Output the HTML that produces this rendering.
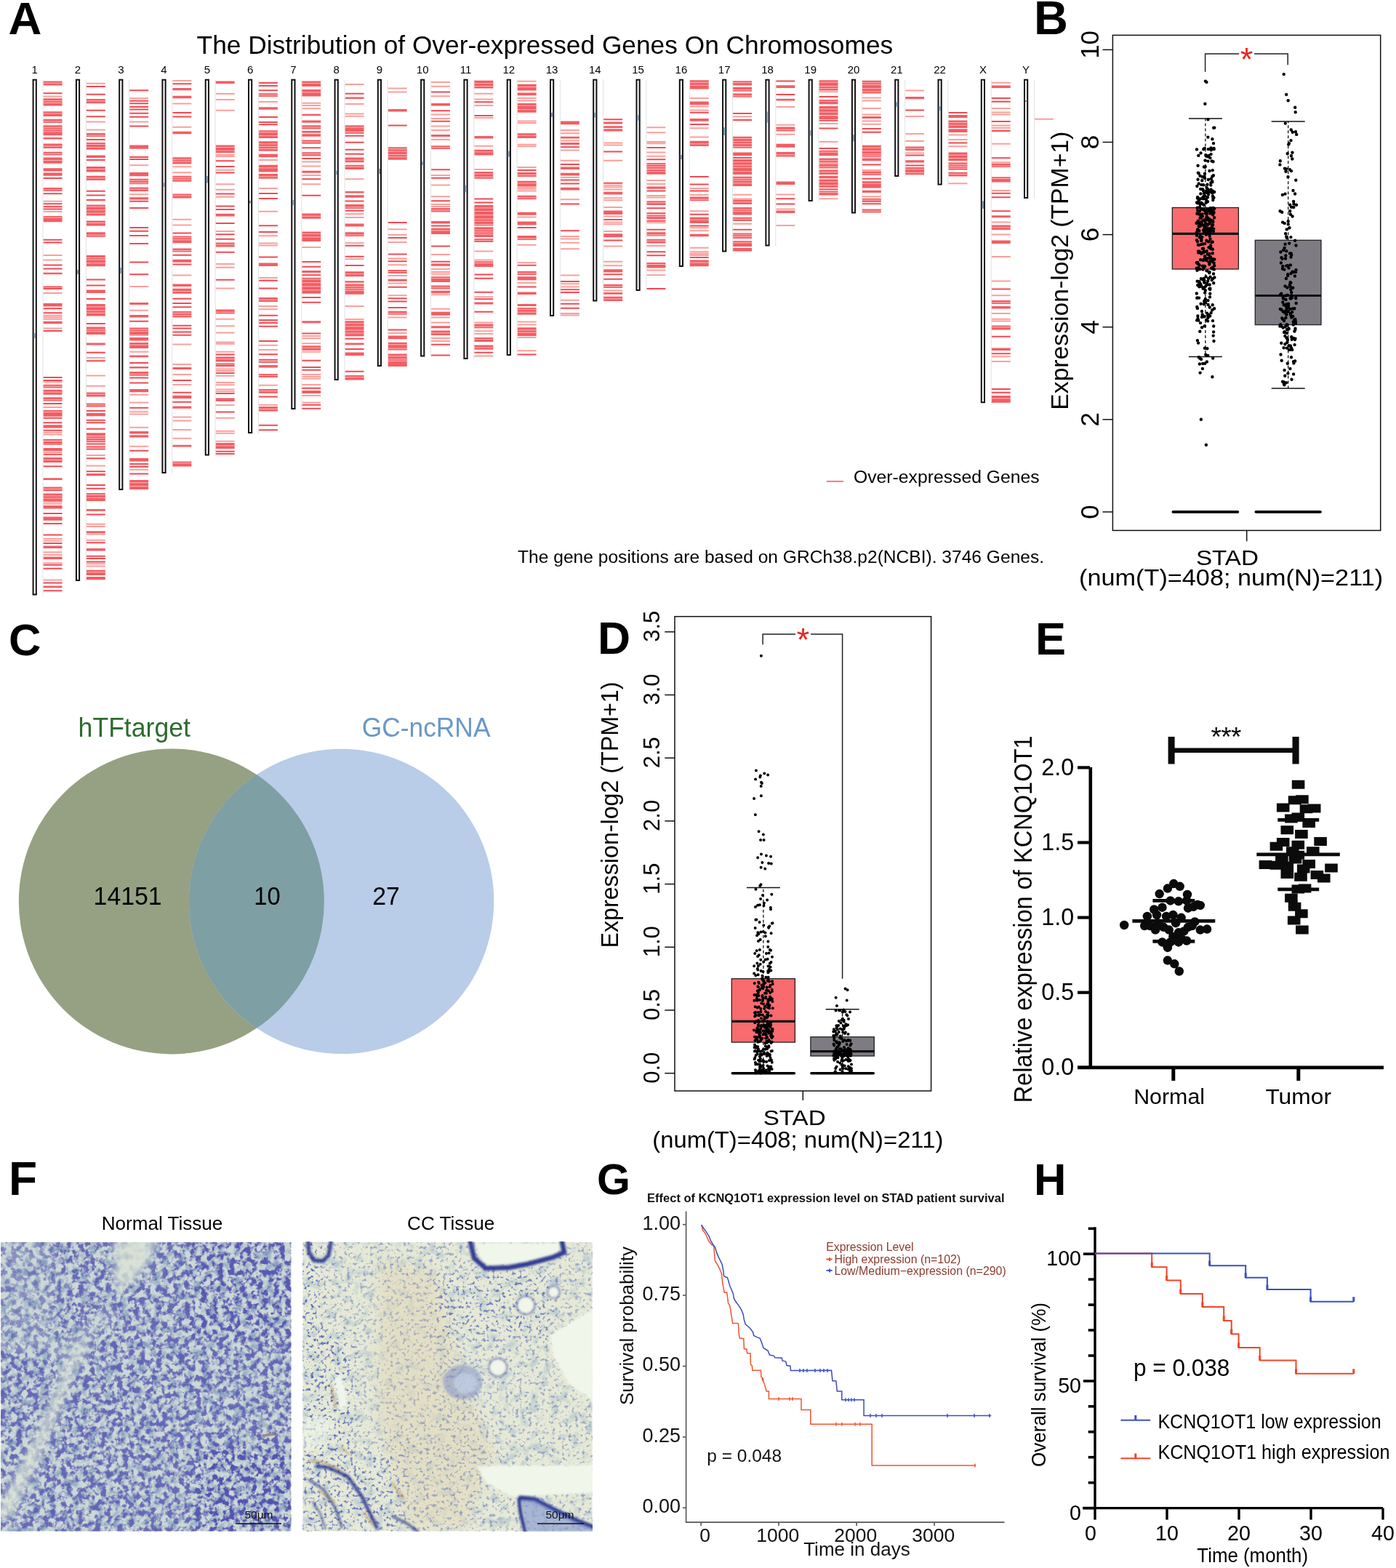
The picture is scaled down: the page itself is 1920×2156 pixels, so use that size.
<!DOCTYPE html>
<html><head><meta charset="utf-8"><title>Figure</title>
<style>html,body{margin:0;padding:0;background:#fff;} svg{display:block;} text{font-family:'Liberation Sans', Arial, sans-serif;}</style>
</head><body>
<svg width="1920" height="2156" viewBox="0 0 1920 2156">
<rect width="1920" height="2156" fill="#fff"/>
<text x="11.5" y="46.7" font-size="63.5" font-weight="bold">A</text>
<text x="270.6" y="73.8" font-size="35.5" textLength="957.6" lengthAdjust="spacingAndGlyphs">The Distribution of Over-expressed Genes On Chromosomes</text>
<text x="47.7" y="100.8" font-size="15" text-anchor="middle">1</text>
<rect x="58.5" y="109.7" width="1" height="708.8" fill="#e2e2e4"/>
<rect x="45.6" y="109.7" width="4.2" height="707.8" fill="#fff" stroke="#111" stroke-width="2"/>
<rect x="46.6" y="458" width="2.2" height="7" fill="#7f9bbf"/>
<text x="107" y="100.8" font-size="15" text-anchor="middle">2</text>
<rect x="117.8" y="109.7" width="1" height="689.3" fill="#e2e2e4"/>
<rect x="104.9" y="109.7" width="4.2" height="688.3" fill="#fff" stroke="#111" stroke-width="2"/>
<rect x="105.9" y="371" width="2.2" height="6" fill="#7f9bbf"/>
<text x="166.3" y="100.8" font-size="15" text-anchor="middle">3</text>
<rect x="177.1" y="109.7" width="1" height="564.3" fill="#e2e2e4"/>
<rect x="164.2" y="109.7" width="4.2" height="563.3" fill="#fff" stroke="#111" stroke-width="2"/>
<rect x="165.2" y="368" width="2.2" height="8" fill="#7f9bbf"/>
<text x="225.5" y="100.8" font-size="15" text-anchor="middle">4</text>
<rect x="236.3" y="109.7" width="1" height="541.3" fill="#e2e2e4"/>
<rect x="223.4" y="109.7" width="4.2" height="540.3" fill="#fff" stroke="#111" stroke-width="2"/>
<rect x="224.4" y="251.5" width="2.2" height="5.2" fill="#7f9bbf"/>
<text x="284.8" y="100.8" font-size="15" text-anchor="middle">5</text>
<rect x="295.6" y="109.7" width="1" height="516.8" fill="#e2e2e4"/>
<rect x="282.7" y="109.7" width="4.2" height="515.8" fill="#fff" stroke="#111" stroke-width="2"/>
<rect x="283.7" y="242" width="2.2" height="9.5" fill="#7f9bbf"/>
<text x="344.1" y="100.8" font-size="15" text-anchor="middle">6</text>
<rect x="354.9" y="109.7" width="1" height="486.3" fill="#e2e2e4"/>
<rect x="342" y="109.7" width="4.2" height="485.3" fill="#fff" stroke="#111" stroke-width="2"/>
<rect x="343" y="276" width="2.2" height="3.6" fill="#7f9bbf"/>
<text x="403.4" y="100.8" font-size="15" text-anchor="middle">7</text>
<rect x="414.2" y="109.7" width="1" height="453.3" fill="#e2e2e4"/>
<rect x="401.3" y="109.7" width="4.2" height="452.3" fill="#fff" stroke="#111" stroke-width="2"/>
<rect x="402.3" y="275" width="2.2" height="7" fill="#7f9bbf"/>
<text x="462.7" y="100.8" font-size="15" text-anchor="middle">8</text>
<rect x="473.5" y="109.7" width="1" height="413.3" fill="#e2e2e4"/>
<rect x="460.6" y="109.7" width="4.2" height="412.3" fill="#fff" stroke="#111" stroke-width="2"/>
<rect x="461.6" y="234.7" width="2.2" height="5.3" fill="#7f9bbf"/>
<text x="521.9" y="100.8" font-size="15" text-anchor="middle">9</text>
<rect x="532.7" y="109.7" width="1" height="394.3" fill="#e2e2e4"/>
<rect x="519.8" y="109.7" width="4.2" height="393.3" fill="#fff" stroke="#111" stroke-width="2"/>
<rect x="520.8" y="232" width="2.2" height="7" fill="#7f9bbf"/>
<text x="581.2" y="100.8" font-size="15" text-anchor="middle">10</text>
<rect x="592" y="109.7" width="1" height="380.8" fill="#e2e2e4"/>
<rect x="579.1" y="109.7" width="4.2" height="379.8" fill="#fff" stroke="#111" stroke-width="2"/>
<rect x="580.1" y="222.3" width="2.2" height="4.9" fill="#7f9bbf"/>
<text x="640.5" y="100.8" font-size="15" text-anchor="middle">11</text>
<rect x="651.3" y="109.7" width="1" height="384.3" fill="#e2e2e4"/>
<rect x="638.4" y="109.7" width="4.2" height="383.3" fill="#fff" stroke="#111" stroke-width="2"/>
<rect x="639.4" y="254.6" width="2.2" height="9.8" fill="#7f9bbf"/>
<text x="699.8" y="100.8" font-size="15" text-anchor="middle">12</text>
<rect x="710.6" y="109.7" width="1" height="379.3" fill="#e2e2e4"/>
<rect x="697.7" y="109.7" width="4.2" height="378.3" fill="#fff" stroke="#111" stroke-width="2"/>
<rect x="698.7" y="207.6" width="2.2" height="7.9" fill="#7f9bbf"/>
<text x="759.1" y="100.8" font-size="15" text-anchor="middle">13</text>
<rect x="769.9" y="109.7" width="1" height="325.3" fill="#e2e2e4"/>
<rect x="757" y="109.7" width="4.2" height="324.3" fill="#fff" stroke="#111" stroke-width="2"/>
<rect x="758" y="154.9" width="2.2" height="5.8" fill="#7f9bbf"/>
<text x="818.3" y="100.8" font-size="15" text-anchor="middle">14</text>
<rect x="829.1" y="109.7" width="1" height="304.8" fill="#e2e2e4"/>
<rect x="816.2" y="109.7" width="4.2" height="303.8" fill="#fff" stroke="#111" stroke-width="2"/>
<rect x="817.2" y="154.9" width="2.2" height="6.6" fill="#7f9bbf"/>
<text x="877.6" y="100.8" font-size="15" text-anchor="middle">15</text>
<rect x="888.4" y="109.7" width="1" height="290.3" fill="#e2e2e4"/>
<rect x="875.5" y="109.7" width="4.2" height="289.3" fill="#fff" stroke="#111" stroke-width="2"/>
<rect x="876.5" y="158.2" width="2.2" height="7.5" fill="#7f9bbf"/>
<text x="936.9" y="100.8" font-size="15" text-anchor="middle">16</text>
<rect x="947.7" y="109.7" width="1" height="257.3" fill="#e2e2e4"/>
<rect x="934.8" y="109.7" width="4.2" height="256.3" fill="#fff" stroke="#111" stroke-width="2"/>
<rect x="935.8" y="213" width="2.2" height="6" fill="#7f9bbf"/>
<text x="996.2" y="100.8" font-size="15" text-anchor="middle">17</text>
<rect x="1007" y="109.7" width="1" height="236.8" fill="#e2e2e4"/>
<rect x="994.1" y="109.7" width="4.2" height="235.8" fill="#fff" stroke="#111" stroke-width="2"/>
<rect x="995.1" y="175.3" width="2.2" height="10.6" fill="#7f9bbf"/>
<text x="1055.5" y="100.8" font-size="15" text-anchor="middle">18</text>
<rect x="1066.3" y="109.7" width="1" height="228.8" fill="#e2e2e4"/>
<rect x="1053.4" y="109.7" width="4.2" height="227.8" fill="#fff" stroke="#111" stroke-width="2"/>
<rect x="1054.4" y="153.5" width="2.2" height="15.2" fill="#7f9bbf"/>
<text x="1114.7" y="100.8" font-size="15" text-anchor="middle">19</text>
<rect x="1125.5" y="109.7" width="1" height="167.3" fill="#e2e2e4"/>
<rect x="1112.6" y="109.7" width="4.2" height="166.3" fill="#fff" stroke="#111" stroke-width="2"/>
<rect x="1113.6" y="179.3" width="2.2" height="7.2" fill="#7f9bbf"/>
<text x="1174" y="100.8" font-size="15" text-anchor="middle">20</text>
<rect x="1184.8" y="109.7" width="1" height="183.8" fill="#e2e2e4"/>
<rect x="1171.9" y="109.7" width="4.2" height="182.8" fill="#fff" stroke="#111" stroke-width="2"/>
<rect x="1172.9" y="185.2" width="2.2" height="9.3" fill="#7f9bbf"/>
<text x="1233.3" y="100.8" font-size="15" text-anchor="middle">21</text>
<rect x="1244.1" y="109.7" width="1" height="133.3" fill="#e2e2e4"/>
<rect x="1231.2" y="109.7" width="4.2" height="132.3" fill="#fff" stroke="#111" stroke-width="2"/>
<rect x="1232.2" y="140.3" width="2.2" height="6.6" fill="#7f9bbf"/>
<text x="1292.6" y="100.8" font-size="15" text-anchor="middle">22</text>
<rect x="1303.4" y="109.7" width="1" height="144.9" fill="#e2e2e4"/>
<rect x="1290.5" y="109.7" width="4.2" height="143.9" fill="#fff" stroke="#111" stroke-width="2"/>
<rect x="1291.5" y="146.2" width="2.2" height="6" fill="#7f9bbf"/>
<text x="1351.9" y="100.8" font-size="15" text-anchor="middle">X</text>
<rect x="1362.7" y="109.7" width="1" height="444.5" fill="#e2e2e4"/>
<rect x="1349.8" y="109.7" width="4.2" height="443.5" fill="#fff" stroke="#111" stroke-width="2"/>
<rect x="1350.8" y="276.4" width="2.2" height="10.5" fill="#7f9bbf"/>
<text x="1411.1" y="100.8" font-size="15" text-anchor="middle">Y</text>
<rect x="1421.9" y="109.7" width="1" height="163.3" fill="#e2e2e4"/>
<rect x="1409" y="109.7" width="4.2" height="162.3" fill="#fff" stroke="#111" stroke-width="2"/>
<rect x="1410" y="138" width="2.2" height="2" fill="#7f9bbf"/>
<path d="M59.7 111.4h25.8v6.2h-25.8zM59.7 135.2h25.8v10.2h-25.8zM59.7 153.2h25.8v6.7h-25.8zM59.7 163.8h25.8v5.3h-25.8zM59.7 172.2h25.8v14.1h-25.8zM59.7 188.9h25.8v2.6h-25.8zM59.7 197.4h25.8v6.5h-25.8zM59.7 208.7h25.8v4.9h-25.8zM59.7 216.6h25.8v8.1h-25.8zM59.7 231.2h25.8v4.4h-25.8zM59.7 237.4h25.8v4.4h-25.8zM59.7 258h25.8v4.9h-25.8zM59.7 296.9h25.8v8.3h-25.8zM59.7 374.7h25.8v2.6h-25.8zM59.7 417h25.8v4.4h-25.8zM59.7 441.7h25.8v3.5h-25.8zM59.7 528.7h25.8v4.9h-25.8zM59.7 535.7h25.8v7h-25.8zM59.7 546.3h25.8v5.3h-25.8zM59.7 563.9h25.8v8.8h-25.8zM59.7 584.2h25.8v4.4h-25.8zM59.7 615.9h25.8v4.4h-25.8zM59.7 629.1h25.8v7h-25.8zM59.7 657.3h25.8v2.6h-25.8zM59.7 669.6h25.8v5.6h-25.8zM59.7 678.4h25.8v10.6h-25.8zM59.7 695.1h25.8v4.4h-25.8zM59.7 710.4h25.8v5.3h-25.8zM59.7 750.6h25.8v3.5h-25.8zM59.7 765.6h25.8v3.5h-25.8zM59.7 805.5h25.8v2.8h-25.8zM119 136.1h25.8v6.2h-25.8zM119 183.1h25.8v4.9h-25.8zM119 196h25.8v9.7h-25.8zM119 213.6h25.8v3.5h-25.8zM119 229.1h25.8v7.4h-25.8zM119 241.8h25.8v6.2h-25.8zM119 281.4h25.8v15h-25.8zM119 303.4h25.8v7h-25.8zM119 319.3h25.8v6.5h-25.8zM119 351h25.8v15.3h-25.8zM119 398.5h25.8v4.4h-25.8zM119 417.9h25.8v16.7h-25.8zM119 449.6h25.8v10.4h-25.8zM119 471.4h25.8v3.2h-25.8zM119 539.6h25.8v5.8h-25.8zM119 554.6h25.8v4.9h-25.8zM119 567.8h25.8v4.4h-25.8zM119 595.3h25.8v3.9h-25.8zM119 600h25.8v8.3h-25.8zM119 651.1h25.8v3.2h-25.8zM119 678h25.8v10.9h-25.8zM119 699.9h25.8v2.8h-25.8zM119 730.3h25.8v2.6h-25.8zM119 754.1h25.8v3.5h-25.8zM119 783.7h25.8v7.4h-25.8zM119 792.9h25.8v4.4h-25.8zM178.3 199.5h25.8v5.3h-25.8zM178.3 237h25.8v5.3h-25.8zM178.3 245.8h25.8v7.4h-25.8zM178.3 257.6h25.8v5.3h-25.8zM178.3 271.2h25.8v3.2h-25.8zM178.3 416.1h25.8v3h-25.8zM178.3 432.9h25.8v3.5h-25.8zM178.3 450.5h25.8v9.5h-25.8zM178.3 463.9h25.8v4.6h-25.8zM178.3 470.9h25.8v8.1h-25.8zM178.3 488.5h25.8v2.8h-25.8zM178.3 504h25.8v2.6h-25.8zM178.3 511.1h25.8v5.6h-25.8zM178.3 534.9h25.8v4.4h-25.8zM178.3 593h25.8v3.5h-25.8zM178.3 598.3h25.8v3.2h-25.8zM178.3 630h25.8v4.4h-25.8zM178.3 640.5h25.8v2.6h-25.8zM178.3 659.9h25.8v13.2h-25.8zM237.5 121.1h25.8v3.2h-25.8zM237.5 131.7h25.8v3.5h-25.8zM237.5 180.7h25.8v3.5h-25.8zM237.5 216.2h25.8v9.2h-25.8zM237.5 241.8h25.8v7.9h-25.8zM237.5 266.4h25.8v6.2h-25.8zM237.5 324.6h25.8v9.7h-25.8zM237.5 341.6h25.8v4.9h-25.8zM237.5 356.8h25.8v3.9h-25.8zM237.5 390.6h25.8v3.5h-25.8zM237.5 396.8h25.8v7h-25.8zM237.5 427.9h25.8v8.5h-25.8zM237.5 504.9h25.8v3h-25.8zM237.5 543.7h25.8v4.4h-25.8zM237.5 558.6h25.8v3.2h-25.8zM237.5 611.8h25.8v2.8h-25.8zM237.5 634.4h25.8v7h-25.8zM296.8 111.4h25.8v3.5h-25.8zM296.8 199.5h25.8v7.9h-25.8zM296.8 293.7h25.8v3.9h-25.8zM296.8 333.4h25.8v6.2h-25.8zM296.8 425.5h25.8v6h-25.8zM296.8 490.6h25.8v7h-25.8zM296.8 609h25.8v7.9h-25.8zM356.1 128.2h25.8v4.9h-25.8zM356.1 147.2h25.8v3.5h-25.8zM356.1 179.3h25.8v10.6h-25.8zM356.1 194.2h25.8v13.6h-25.8zM356.1 211.8h25.8v4.4h-25.8zM356.1 226.8h25.8v9.7h-25.8zM356.1 239.1h25.8v6.7h-25.8zM356.1 361.5h25.8v4.4h-25.8zM356.1 409.1h25.8v5.8h-25.8zM356.1 439h25.8v2.6h-25.8zM356.1 501.9h25.8v3.6h-25.8zM356.1 514.1h25.8v4.9h-25.8zM356.1 534.9h25.8v5.8h-25.8zM356.1 558.9h25.8v6.6h-25.8zM415.4 111.4h25.8v7.6h-25.8zM415.4 122.9h25.8v9.7h-25.8zM415.4 156.7h25.8v2.6h-25.8zM415.4 165.5h25.8v3.2h-25.8zM415.4 172.2h25.8v5.3h-25.8zM415.4 180.1h25.8v2.6h-25.8zM415.4 184.2h25.8v3.5h-25.8zM415.4 192.5h25.8v5.3h-25.8zM415.4 209.2h25.8v5.3h-25.8zM415.4 234.7h25.8v3h-25.8zM415.4 293.4h25.8v7.4h-25.8zM415.4 318.4h25.8v13.7h-25.8zM415.4 372.1h25.8v3h-25.8zM415.4 381.8h25.8v22h-25.8zM415.4 441.3h25.8v3h-25.8zM415.4 475.2h25.8v6.6h-25.8zM415.4 537.1h25.8v4h-25.8zM474.7 133.5h25.8v2.6h-25.8zM474.7 172.2h25.8v8.8h-25.8zM474.7 216.6h25.8v6.7h-25.8zM474.7 226.8h25.8v6.2h-25.8zM474.7 262.9h25.8v2.6h-25.8zM474.7 268.2h25.8v3.5h-25.8zM474.7 281h25.8v6h-25.8zM474.7 307.5h25.8v3.9h-25.8zM474.7 319.3h25.8v5.8h-25.8zM474.7 373.3h25.8v7h-25.8zM474.7 386.2h25.8v2.6h-25.8zM474.7 390.6h25.8v14.1h-25.8zM474.7 441.3h25.8v18.7h-25.8zM474.7 471.6h25.8v2.6h-25.8zM474.7 484.4h25.8v4.6h-25.8zM474.7 516h25.8v6.6h-25.8zM533.9 149.9h25.8v3.5h-25.8zM533.9 202.2h25.8v17.6h-25.8zM533.9 371h25.8v4.9h-25.8zM533.9 383.8h25.8v2.9h-25.8zM533.9 427.8h25.8v4.9h-25.8zM533.9 461.6h25.8v4.7h-25.8zM533.9 470.8h25.8v10.8h-25.8zM533.9 486.5h25.8v13.5h-25.8zM533.9 500h25.8v3.9h-25.8zM593.2 142.1h25.8v3.3h-25.8zM593.2 185.1h25.8v2.9h-25.8zM593.2 200.2h25.8v4.9h-25.8zM593.2 285.9h25.8v5.5h-25.8zM593.2 304.1h25.8v3.3h-25.8zM593.2 313.7h25.8v8.4h-25.8zM593.2 362.6h25.8v3.1h-25.8zM593.2 380.2h25.8v7.8h-25.8zM593.2 392.6h25.8v4.9h-25.8zM593.2 399.8h25.8v3.5h-25.8zM593.2 428.8h25.8v4.9h-25.8zM593.2 448.3h25.8v2.9h-25.8zM593.2 454.6h25.8v6.5h-25.8zM652.5 110.8h25.8v10.8h-25.8zM652.5 187.1h25.8v3.3h-25.8zM652.5 205.7h25.8v7.8h-25.8zM652.5 236h25.8v9.8h-25.8zM652.5 282h25.8v28.4h-25.8zM652.5 312.3h25.8v13.7h-25.8zM652.5 328h25.8v4.9h-25.8zM652.5 359.3h25.8v7.8h-25.8zM652.5 415.5h25.8v3.1h-25.8zM652.5 445.4h25.8v5.9h-25.8zM652.5 464h25.8v5.9h-25.8zM652.5 474.4h25.8v6.3h-25.8zM711.8 115.7h25.8v8.8h-25.8zM711.8 127.4h25.8v3.9h-25.8zM711.8 142.1h25.8v12.7h-25.8zM711.8 183.2h25.8v6.8h-25.8zM711.8 237h25.8v5.9h-25.8zM711.8 248.7h25.8v7.8h-25.8zM711.8 268.7h25.8v5.5h-25.8zM711.8 291.8h25.8v3.9h-25.8zM711.8 304.5h25.8v4.9h-25.8zM711.8 324.1h25.8v5.9h-25.8zM711.8 373h25.8v4.9h-25.8zM711.8 380.2h25.8v5.1h-25.8zM711.8 401.4h25.8v3.5h-25.8zM711.8 418h25.8v2.9h-25.8zM711.8 422.9h25.8v9.8h-25.8zM711.8 450.3h25.8v11.7h-25.8zM771.1 166.5h25.8v4.7h-25.8zM771.1 187.8h25.8v2.8h-25.8zM771.1 196.1h25.8v2.8h-25.8zM771.1 229.4h25.8v3.7h-25.8zM771.1 237.7h25.8v3.7h-25.8zM771.1 257.7h25.8v3.7h-25.8zM830.3 167.4h25.8v3h-25.8zM830.3 173.2h25.8v2.8h-25.8zM830.3 177.3h25.8v3.3h-25.8zM830.3 263.8h25.8v3.8h-25.8zM830.3 289.6h25.8v5.3h-25.8zM830.3 321.2h25.8v5h-25.8zM830.3 370.3h25.8v4.2h-25.8zM830.3 391.1h25.8v5h-25.8zM830.3 401.9h25.8v2.8h-25.8zM830.3 407.7h25.8v6.3h-25.8zM889.6 223.9h25.8v8.3h-25.8zM889.6 233.1h25.8v6.7h-25.8zM889.6 256.4h25.8v3.3h-25.8zM889.6 276.3h25.8v5.8h-25.8zM889.6 295.4h25.8v5.8h-25.8zM889.6 319.2h25.8v5.3h-25.8zM889.6 328.7h25.8v5.8h-25.8zM889.6 361.1h25.8v7.5h-25.8zM948.9 110.3h25.8v12.2h-25.8zM948.9 139.6h25.8v4.6h-25.8zM948.9 163.1h25.8v3.6h-25.8zM948.9 193.8h25.8v7.3h-25.8zM948.9 270.4h25.8v5.9h-25.8zM948.9 298.8h25.8v8.3h-25.8zM948.9 321.7h25.8v3.6h-25.8zM948.9 357.6h25.8v8.6h-25.8zM1008.2 111.2h25.8v6.2h-25.8zM1008.2 119.8h25.8v5.9h-25.8zM1008.2 128.4h25.8v5.3h-25.8zM1008.2 187.8h25.8v15.9h-25.8zM1008.2 209.4h25.8v4.9h-25.8zM1008.2 218.9h25.8v21.1h-25.8zM1008.2 242.7h25.8v13.2h-25.8zM1008.2 274.6h25.8v6.3h-25.8zM1008.2 284.9h25.8v10.6h-25.8zM1008.2 298.8h25.8v5.3h-25.8zM1008.2 320.6h25.8v7.3h-25.8zM1008.2 331.2h25.8v7.7h-25.8zM1008.2 341.1h25.8v4.4h-25.8zM1067.5 117.2h25.8v3.7h-25.8zM1067.5 135.7h25.8v2.9h-25.8zM1067.5 174.6h25.8v5.9h-25.8zM1067.5 197.8h25.8v5h-25.8zM1067.5 209h25.8v6.6h-25.8zM1067.5 249.5h25.8v4.4h-25.8zM1067.5 289.6h25.8v3.3h-25.8zM1126.7 110.3h25.8v14.1h-25.8zM1126.7 137h25.8v6.3h-25.8zM1126.7 146h25.8v12.2h-25.8zM1126.7 159.2h25.8v4.9h-25.8zM1126.7 206.7h25.8v7.5h-25.8zM1126.7 217.6h25.8v5.9h-25.8zM1126.7 225.5h25.8v5.9h-25.8zM1126.7 233.4h25.8v6.6h-25.8zM1126.7 242h25.8v3.3h-25.8zM1126.7 246.6h25.8v11.2h-25.8zM1126.7 262.5h25.8v5.9h-25.8zM1186 110.8h25.8v17.6h-25.8zM1186 160.1h25.8v3h-25.8zM1186 199.7h25.8v16.5h-25.8zM1186 217.6h25.8v3.7h-25.8zM1186 235.4h25.8v5.7h-25.8zM1186 249.3h25.8v9.2h-25.8zM1186 261.8h25.8v3.3h-25.8zM1186 272.8h25.8v5.3h-25.8zM1186 287.6h25.8v5h-25.8zM1245.3 133h25.8v3.3h-25.8zM1245.3 201.5h25.8v5.5h-25.8zM1245.3 220.2h25.8v3.3h-25.8zM1245.3 230.1h25.8v10.2h-25.8zM1304.6 158.1h25.8v4h-25.8zM1304.6 165.4h25.8v10.6h-25.8zM1304.6 177.3h25.8v4.6h-25.8zM1304.6 209.6h25.8v11.6h-25.8zM1304.6 226.2h25.8v4.6h-25.8zM1304.6 236.7h25.8v5.9h-25.8zM1363.9 117.4h25.8v3.7h-25.8zM1363.9 224.8h25.8v5.3h-25.8zM1363.9 243.3h25.8v7.3h-25.8zM1363.9 296.2h25.8v3h-25.8zM1363.9 309.4h25.8v6.6h-25.8zM1363.9 330.5h25.8v4.6h-25.8zM1363.9 413.1h25.8v4.8h-25.8zM1363.9 421h25.8v3.6h-25.8zM1363.9 447.4h25.8v6.1h-25.8zM1363.9 478.4h25.8v3.7h-25.8zM1363.9 544h25.8v9.8h-25.8z" fill="#f35d63"/>
<path d="" fill="#f9a2a2"/>
<path d="M59.7 132.6h25.8M59.7 276.8h25.8M59.7 290.9h25.8M59.7 351h25.8M59.7 357.6h25.8M59.7 402.9h25.8M59.7 433.8h25.8M59.7 436.2h25.8M59.7 438.7h25.8M59.7 451.4h25.8M59.7 525.2h25.8M59.7 559.9h25.8M59.7 594.7h25.8M59.7 597.5h25.8M59.7 622h25.8M59.7 689.9h25.8M59.7 692.7h25.8M59.7 740.7h25.8M59.7 743.7h25.8M59.7 759.2h25.8M59.7 762.9h25.8M59.7 774.2h25.8M59.7 797.4h25.8M119 114.8h25.8M119 167.5h25.8M119 178.4h25.8M119 492h25.8M119 516.4h25.8M119 530.8h25.8M119 626.1h25.8M119 640.5h25.8M119 720.7h25.8M119 723.9h25.8M119 734.6h25.8M119 742.7h25.8M119 775.3h25.8M119 778.5h25.8M178.3 135.2h25.8M178.3 167.5h25.8M178.3 227.2h25.8M178.3 267.3h25.8M178.3 394.1h25.8M178.3 426.7h25.8M178.3 460.9h25.8M178.3 483.8h25.8M178.3 542.8h25.8M178.3 553.4h25.8M178.3 566.2h25.8M178.3 569.5h25.8M178.3 587.7h25.8M178.3 613.8h25.8M178.3 645.8h25.8M237.5 110.9h25.8M237.5 142.4h25.8M237.5 174.7h25.8M237.5 229.3h25.8M237.5 237.2h25.8M237.5 301.8h25.8M237.5 309.6h25.8M237.5 378.5h25.8M237.5 473.6h25.8M237.5 501h25.8M237.5 515h25.8M237.5 528.9h25.8M237.5 573.6h25.8M237.5 578.5h25.8M237.5 590.9h25.8M237.5 602.7h25.8M296.8 129.1h25.8M296.8 137h25.8M296.8 151.8h25.8M296.8 212.7h25.8M296.8 215.1h25.8M296.8 233.8h25.8M296.8 253.2h25.8M296.8 260.8h25.8M296.8 270.8h25.8M296.8 317.9h25.8M296.8 362.9h25.8M296.8 367.7h25.8M296.8 396.6h25.8M296.8 438.7h25.8M296.8 448.2h25.8M296.8 457.5h25.8M296.8 470.4h25.8M296.8 472.7h25.8M296.8 483.7h25.8M296.8 507.5h25.8M296.8 509.9h25.8M296.8 516.8h25.8M296.8 525.9h25.8M296.8 529.2h25.8M296.8 535.4h25.8M296.8 538.3h25.8M296.8 556.9h25.8M296.8 574.7h25.8M296.8 592.8h25.8M296.8 595.7h25.8M296.8 606.8h25.8M356.1 140h25.8M356.1 220h25.8M356.1 259.1h25.8M356.1 290.7h25.8M356.1 324.2h25.8M356.1 334.4h25.8M356.1 337.6h25.8M356.1 382h25.8M356.1 420.9h25.8M356.1 425.3h25.8M356.1 474.7h25.8M356.1 480.9h25.8M356.1 529.8h25.8M356.1 556.7h25.8M415.4 141.7h25.8M415.4 144.9h25.8M415.4 149.3h25.8M415.4 222.4h25.8M415.4 228.6h25.8M415.4 240.9h25.8M415.4 253.2h25.8M415.4 339.9h25.8M415.4 462h25.8M415.4 465.3h25.8M415.4 472.3h25.8M415.4 483.7h25.8M415.4 515h25.8M415.4 518.1h25.8M415.4 520.8h25.8M415.4 529h25.8M415.4 544h25.8M415.4 553.6h25.8M474.7 115.9h25.8M474.7 143.1h25.8M474.7 156.4h25.8M474.7 159.7h25.8M474.7 246.2h25.8M474.7 294.3h25.8M474.7 299h25.8M474.7 334.2h25.8M474.7 356.3h25.8M474.7 421.1h25.8M474.7 439h25.8M533.9 121.5h25.8M533.9 126.4h25.8M533.9 315.3h25.8M533.9 323.1h25.8M533.9 332.9h25.8M533.9 355.4h25.8M533.9 364.2h25.8M533.9 378.9h25.8M533.9 389.5h25.8M533.9 406.3h25.8M533.9 436.6h25.8M533.9 458.1h25.8M593.2 113.1h25.8M593.2 118.8h25.8M593.2 132.3h25.8M593.2 157.5h25.8M593.2 163h25.8M593.2 173.4h25.8M593.2 178.9h25.8M593.2 192h25.8M593.2 240.9h25.8M593.2 254.4h25.8M593.2 270.3h25.8M593.2 280.9h25.8M593.2 284.1h25.8M593.2 350.1h25.8M593.2 370h25.8M593.2 373.9h25.8M593.2 376.8h25.8M593.2 405.3h25.8M593.2 424.8h25.8M593.2 436.6h25.8M593.2 443.4h25.8M593.2 465h25.8M593.2 468.9h25.8M652.5 128.8h25.8M652.5 136.4h25.8M652.5 145h25.8M652.5 162h25.8M652.5 200.8h25.8M652.5 233.1h25.8M652.5 345.6h25.8M652.5 357.5h25.8M652.5 408.2h25.8M652.5 443.4h25.8M652.5 455.2h25.8M652.5 459.1h25.8M652.5 489.4h25.8M711.8 111.7h25.8M711.8 135.1h25.8M711.8 138.5h25.8M711.8 166.5h25.8M711.8 168.9h25.8M711.8 198.7h25.8M711.8 201.3h25.8M711.8 230.1h25.8M711.8 257.5h25.8M711.8 259.8h25.8M711.8 262.4h25.8M711.8 298.6h25.8M711.8 336.8h25.8M711.8 361.3h25.8M711.8 389h25.8M711.8 442.5h25.8M711.8 446.4h25.8M711.8 463.9h25.8M711.8 482.2h25.8M771.1 179.1h25.8M771.1 183.2h25.8M771.1 193.6h25.8M771.1 206.5h25.8M771.1 220.7h25.8M771.1 244h25.8M771.1 274.2h25.8M771.1 325h25.8M771.1 328.4h25.8M771.1 333.8h25.8M771.1 342.3h25.8M771.1 378.6h25.8M771.1 390.3h25.8M771.1 394.4h25.8M771.1 412.7h25.8M771.1 431.1h25.8M771.1 433.5h25.8M830.3 196.5h25.8M830.3 199.5h25.8M830.3 220.8h25.8M830.3 254.8h25.8M830.3 257.2h25.8M830.3 260.4h25.8M830.3 272.2h25.8M830.3 275.3h25.8M830.3 285.1h25.8M830.3 297.5h25.8M830.3 305.5h25.8M830.3 308.3h25.8M830.3 318.1h25.8M830.3 338.4h25.8M830.3 359.7h25.8M830.3 365.3h25.8M830.3 399.4h25.8M889.6 175.3h25.8M889.6 182.3h25.8M889.6 194.9h25.8M889.6 197.3h25.8M889.6 209.5h25.8M889.6 214.8h25.8M889.6 248h25.8M889.6 253h25.8M889.6 268.9h25.8M889.6 271.5h25.8M889.6 306.3h25.8M889.6 337.9h25.8M889.6 371.5h25.8M889.6 378.3h25.8M948.9 135.1h25.8M948.9 146.4h25.8M948.9 151.5h25.8M948.9 176.2h25.8M948.9 188.4h25.8M948.9 259h25.8M948.9 268.1h25.8M948.9 290.2h25.8M948.9 313.2h25.8M948.9 317.3h25.8M948.9 340.7h25.8M948.9 346.3h25.8M948.9 348.7h25.8M948.9 351.1h25.8M1008.2 160.3h25.8M1008.2 267.8h25.8M1008.2 273.4h25.8M1008.2 307.7h25.8M1067.5 146.9h25.8M1067.5 171.7h25.8M1067.5 184.7h25.8M1067.5 267.6h25.8M1067.5 287.4h25.8M1067.5 310h25.8M1126.7 126.3h25.8M1126.7 170h25.8M1126.7 195.1h25.8M1126.7 224.5h25.8M1126.7 273.2h25.8M1186 134.5h25.8M1186 138.5h25.8M1186 149.1h25.8M1186 157.5h25.8M1186 166.5h25.8M1186 170.8h25.8M1186 233.9h25.8M1186 270.2h25.8M1245.3 124.6h25.8M1245.3 160h25.8M1245.3 184h25.8M1245.3 194h25.8M1245.3 210.6h25.8M1304.6 185.5h25.8M1304.6 191.9h25.8M1304.6 201.2h25.8M1304.6 252.2h25.8M1363.9 113.7h25.8M1363.9 149.1h25.8M1363.9 154.4h25.8M1363.9 157.6h25.8M1363.9 172.5h25.8M1363.9 175.8h25.8M1363.9 197.7h25.8M1363.9 223.2h25.8M1363.9 262h25.8M1363.9 305.5h25.8M1363.9 322.5h25.8M1363.9 353.1h25.8M1363.9 386.4h25.8M1363.9 406.2h25.8M1363.9 431.1h25.8M1363.9 438.7h25.8M1363.9 441.5h25.8M1363.9 490.3h25.8M1363.9 496.9h25.8M1423.1 163.8h25.8" stroke="#fb9f9a" stroke-width="2" fill="none"/>
<path d="M59.7 114.2h25.8M59.7 138.6h25.8M59.7 141.4h25.8M59.7 156h25.8M59.7 166.9h25.8M59.7 175.2h25.8M59.7 178h25.8M59.7 180.9h25.8M59.7 201.1h25.8M59.7 211.3h25.8M59.7 220.5h25.8M59.7 260.9h25.8M59.7 299.2h25.8M59.7 531.2h25.8M59.7 539.1h25.8M59.7 549.5h25.8M59.7 566.5h25.8M59.7 632.3h25.8M59.7 672.3h25.8M59.7 681.8h25.8M59.7 685.2h25.8M119 138.8h25.8M119 186.1h25.8M119 198.5h25.8M119 202.5h25.8M119 232.5h25.8M119 245h25.8M119 284.2h25.8M119 288.8h25.8M119 293.1h25.8M119 306.4h25.8M119 323.2h25.8M119 354.4h25.8M119 357.1h25.8M119 361.8h25.8M119 421.9h25.8M119 426.9h25.8M119 430.3h25.8M119 453h25.8M119 455.7h25.8M119 542.1h25.8M119 556.9h25.8M119 602.4h25.8M119 605.8h25.8M119 680.4h25.8M119 684.3h25.8M119 786.7h25.8M178.3 248.3h25.8M178.3 251.4h25.8M178.3 260.2h25.8M178.3 453.1h25.8M178.3 455.8h25.8M178.3 474.1h25.8M178.3 514.2h25.8M178.3 663.7h25.8M178.3 668.6h25.8M237.5 219.2h25.8M237.5 222.1h25.8M237.5 244.1h25.8M237.5 246.9h25.8M237.5 268.9h25.8M237.5 326.8h25.8M237.5 329.8h25.8M237.5 344.5h25.8M237.5 400.5h25.8M237.5 430.4h25.8M237.5 433.7h25.8M237.5 636.8h25.8M296.8 202.5h25.8M296.8 336.2h25.8M296.8 429.2h25.8M296.8 493.7h25.8M296.8 612.8h25.8M356.1 130.8h25.8M356.1 181.8h25.8M356.1 186.6h25.8M356.1 197.8h25.8M356.1 201.4h25.8M356.1 204.6h25.8M356.1 230.8h25.8M356.1 242.8h25.8M356.1 412.2h25.8M356.1 516.3h25.8M356.1 537.6h25.8M356.1 562.4h25.8M415.4 114.5h25.8M415.4 126.9h25.8M415.4 175.1h25.8M415.4 195.1h25.8M415.4 211.8h25.8M415.4 297.2h25.8M415.4 321.4h25.8M415.4 325.9h25.8M415.4 384.1h25.8M415.4 388.7h25.8M415.4 393.9h25.8M415.4 398.8h25.8M415.4 478.2h25.8M474.7 175.1h25.8M474.7 220.1h25.8M474.7 229.2h25.8M474.7 284.9h25.8M474.7 323h25.8M474.7 376.7h25.8M474.7 393.8h25.8M474.7 396.8h25.8M474.7 399.4h25.8M474.7 444.7h25.8M474.7 448.8h25.8M474.7 454.1h25.8M474.7 458h25.8M474.7 518.6h25.8M533.9 204.9h25.8M533.9 208.2h25.8M533.9 212.5h25.8M533.9 215.8h25.8M533.9 373.5h25.8M533.9 430.8h25.8M533.9 473.8h25.8M533.9 479.1h25.8M533.9 489.7h25.8M533.9 493.8h25.8M533.9 496.4h25.8M593.2 202.7h25.8M593.2 289h25.8M593.2 316.9h25.8M593.2 382.6h25.8M593.2 395.2h25.8M593.2 457.8h25.8M652.5 114.6h25.8M652.5 118.5h25.8M652.5 208.8h25.8M652.5 239h25.8M652.5 243.2h25.8M652.5 285.9h25.8M652.5 290.5h25.8M652.5 295.7h25.8M652.5 301h25.8M652.5 304.3h25.8M652.5 308.6h25.8M652.5 316h25.8M652.5 319h25.8M652.5 322h25.8M652.5 330.3h25.8M652.5 361.6h25.8M652.5 449h25.8M652.5 466.5h25.8M652.5 477.8h25.8M711.8 119.6h25.8M711.8 145.2h25.8M711.8 150.6h25.8M711.8 186.3h25.8M711.8 240.5h25.8M711.8 251.9h25.8M711.8 271.8h25.8M711.8 328h25.8M711.8 375.7h25.8M711.8 425.3h25.8M711.8 429.2h25.8M711.8 454h25.8M711.8 457.3h25.8M830.3 393.8h25.8M830.3 410.9h25.8M889.6 226.2h25.8M889.6 229.4h25.8M889.6 235.8h25.8M889.6 278.8h25.8M889.6 297.7h25.8M889.6 322.7h25.8M889.6 331.3h25.8M889.6 363.5h25.8M948.9 113.3h25.8M948.9 117.3h25.8M948.9 197.8h25.8M948.9 274.1h25.8M948.9 302.2h25.8M948.9 361.1h25.8M1008.2 113.7h25.8M1008.2 123.5h25.8M1008.2 131.8h25.8M1008.2 190.6h25.8M1008.2 194.5h25.8M1008.2 197.6h25.8M1008.2 201.5h25.8M1008.2 222.8h25.8M1008.2 227h25.8M1008.2 230.3h25.8M1008.2 235.7h25.8M1008.2 245.5h25.8M1008.2 248.1h25.8M1008.2 251.8h25.8M1008.2 277.7h25.8M1008.2 288h25.8M1008.2 290.7h25.8M1008.2 301.2h25.8M1008.2 322.9h25.8M1008.2 325.5h25.8M1008.2 333.8h25.8M1067.5 178.2h25.8M1067.5 212.8h25.8M1126.7 113.1h25.8M1126.7 118.5h25.8M1126.7 121.6h25.8M1126.7 139.3h25.8M1126.7 149.8h25.8M1126.7 154.2h25.8M1126.7 209.2h25.8M1126.7 220.7h25.8M1126.7 229.1h25.8M1126.7 236.7h25.8M1126.7 250.1h25.8M1126.7 254.7h25.8M1126.7 264.7h25.8M1186 113.7h25.8M1186 116.6h25.8M1186 121.6h25.8M1186 125.8h25.8M1186 203.1h25.8M1186 207.6h25.8M1186 211.7h25.8M1186 214.3h25.8M1186 238.9h25.8M1186 252.4h25.8M1186 275.1h25.8M1186 290.2h25.8M1245.3 204.1h25.8M1245.3 232.7h25.8M1245.3 237.4h25.8M1304.6 168.5h25.8M1304.6 172.2h25.8M1304.6 213.2h25.8M1304.6 217.6h25.8M1304.6 228.5h25.8M1304.6 239.4h25.8M1363.9 228.1h25.8M1363.9 245.6h25.8M1363.9 312.8h25.8M1363.9 415.9h25.8M1363.9 449.8h25.8M1363.9 547.9h25.8" stroke="#fcc6c6" stroke-width="0.9" fill="none"/>
<path d="M59.7 128.2h25.8M59.7 244.9h25.8M59.7 266.3h25.8M59.7 280.3h25.8M59.7 284.2h25.8M59.7 287.4h25.8M59.7 329.8h25.8M59.7 333.4h25.8M59.7 364.4h25.8M59.7 369.5h25.8M59.7 394.5h25.8M59.7 396.9h25.8M59.7 424.3h25.8M59.7 430.2h25.8M59.7 454.9h25.8M59.7 519h25.8M59.7 522.9h25.8M59.7 554.9h25.8M59.7 574.7h25.8M59.7 581.3h25.8M59.7 591.7h25.8M59.7 604.9h25.8M59.7 607.9h25.8M59.7 610.4h25.8M59.7 624.7h25.8M59.7 641.2h25.8M59.7 705.9h25.8M59.7 720h25.8M59.7 735.4h25.8M59.7 747.1h25.8M59.7 776.8h25.8M59.7 781.8h25.8M59.7 801.5h25.8M59.7 812.2h25.8M119 119.1h25.8M119 129.8h25.8M119 151.7h25.8M119 160.3h25.8M119 192h25.8M119 219.9h25.8M119 262.7h25.8M119 268.4h25.8M119 274.9h25.8M119 384.6h25.8M119 392.4h25.8M119 411h25.8M119 445h25.8M119 484.7h25.8M119 496.3h25.8M119 565.1h25.8M119 577.8h25.8M119 581.3h25.8M119 589.8h25.8M119 610.4h25.8M119 614.5h25.8M119 617.4h25.8M119 630.3h25.8M119 648.2h25.8M119 666.9h25.8M119 671.7h25.8M119 707.6h25.8M119 746.2h25.8M119 764.7h25.8M119 767.9h25.8M119 772.4h25.8M178.3 124.3h25.8M178.3 138.7h25.8M178.3 142.3h25.8M178.3 147h25.8M178.3 150.5h25.8M178.3 155.7h25.8M178.3 160.8h25.8M178.3 173.6h25.8M178.3 216h25.8M178.3 218.9h25.8M178.3 276.8h25.8M178.3 286h25.8M178.3 312.9h25.8M178.3 317.7h25.8M178.3 324h25.8M178.3 334.9h25.8M178.3 360.4h25.8M178.3 377.2h25.8M178.3 441.7h25.8M178.3 499.1h25.8M178.3 519.4h25.8M178.3 526.4h25.8M178.3 560.7h25.8M178.3 619.7h25.8M178.3 638.1h25.8M178.3 651.4h25.8M237.5 115.3h25.8M237.5 155.1h25.8M237.5 160.4h25.8M237.5 320.4h25.8M237.5 350.8h25.8M237.5 363.5h25.8M237.5 410.8h25.8M237.5 417h25.8M237.5 422.3h25.8M237.5 447.7h25.8M237.5 451.4h25.8M237.5 456.6h25.8M237.5 460.7h25.8M237.5 522.9h25.8M237.5 539.8h25.8M237.5 552.7h25.8M296.8 208.9h25.8M296.8 221.3h25.8M296.8 229.1h25.8M296.8 237.4h25.8M296.8 266.4h25.8M296.8 283.4h25.8M296.8 287.9h25.8M296.8 307.1h25.8M296.8 322.3h25.8M296.8 328.7h25.8M296.8 346.7h25.8M296.8 384.8h25.8M296.8 487.6h25.8M296.8 500.5h25.8M296.8 503h25.8M296.8 513.1h25.8M296.8 540.9h25.8M296.8 548.4h25.8M296.8 550.7h25.8M296.8 566.5h25.8M296.8 620.7h25.8M296.8 624h25.8M356.1 114.1h25.8M356.1 118h25.8M356.1 124.3h25.8M356.1 161.1h25.8M356.1 168h25.8M356.1 171.3h25.8M356.1 266.1h25.8M356.1 273.1h25.8M356.1 310.3h25.8M356.1 318.9h25.8M356.1 353.4h25.8M356.1 385.8h25.8M356.1 396.6h25.8M356.1 433.7h25.8M356.1 444.1h25.8M356.1 448.7h25.8M356.1 468.9h25.8M356.1 487.2h25.8M356.1 494.7h25.8M356.1 497.8h25.8M356.1 545.5h25.8M356.1 584.8h25.8M356.1 591.2h25.8M415.4 203.2h25.8M415.4 218h25.8M415.4 246.2h25.8M415.4 268.8h25.8M415.4 360.1h25.8M415.4 366.8h25.8M415.4 378.3h25.8M415.4 409.1h25.8M415.4 415.8h25.8M415.4 458.4h25.8M415.4 495.8h25.8M415.4 504.9h25.8M415.4 508.8h25.8M415.4 533.8h25.8M415.4 556.7h25.8M415.4 561.7h25.8M474.7 128.8h25.8M474.7 182.8h25.8M474.7 186.8h25.8M474.7 195.8h25.8M474.7 205.7h25.8M474.7 211.8h25.8M474.7 276.6h25.8M474.7 289.7h25.8M474.7 337.8h25.8M474.7 352.7h25.8M474.7 365.1h25.8M474.7 461.2h25.8M474.7 465.7h25.8M474.7 480h25.8M474.7 510.8h25.8M533.9 172.6h25.8M533.9 306.1h25.8M533.9 327h25.8M533.9 349.5h25.8M533.9 359.3h25.8M533.9 394.7h25.8M533.9 410.2h25.8M533.9 414.4h25.8M533.9 422.9h25.8M533.9 453.6h25.8M593.2 126.4h25.8M593.2 152.3h25.8M593.2 166.7h25.8M593.2 233.3h25.8M593.2 244.8h25.8M593.2 276.3h25.8M593.2 310.6h25.8M593.2 338.6h25.8M593.2 359.7h25.8M593.2 473.8h25.8M593.2 488.5h25.8M652.5 140.3h25.8M652.5 159h25.8M652.5 273.4h25.8M652.5 278.4h25.8M652.5 377.6h25.8M652.5 382.8h25.8M652.5 401.7h25.8M652.5 411.2h25.8M652.5 428.8h25.8M652.5 484.8h25.8M711.8 234.1h25.8M711.8 313h25.8M711.8 364.8h25.8M711.8 394.5h25.8M711.8 487.5h25.8M771.1 202.3h25.8M771.1 226h25.8M771.1 247.4h25.8M771.1 252.6h25.8M771.1 280.5h25.8M771.1 317.2h25.8M771.1 386.9h25.8M771.1 398.2h25.8M771.1 401.9h25.8M771.1 417.7h25.8M771.1 423.7h25.8M830.3 164.2h25.8M830.3 208.5h25.8M830.3 251.8h25.8M830.3 301.9h25.8M830.3 330.5h25.8M830.3 377.3h25.8M830.3 383.8h25.8M889.6 202.9h25.8M889.6 219.3h25.8M889.6 262.6h25.8M889.6 286.3h25.8M889.6 293.2h25.8M889.6 303.8h25.8M889.6 315.8h25.8M889.6 346.2h25.8M889.6 351.2h25.8M889.6 396.9h25.8M948.9 154.8h25.8M948.9 171.1h25.8M948.9 243.1h25.8M948.9 253.6h25.8M948.9 262.6h25.8M948.9 294.7h25.8M948.9 310.4h25.8M948.9 354h25.8M1008.2 156.1h25.8M1008.2 164.9h25.8M1008.2 216.9h25.8M1008.2 315.7h25.8M1067.5 111.6h25.8M1067.5 129.9h25.8M1067.5 273.2h25.8M1067.5 280.4h25.8M1126.7 133h25.8M1126.7 165.7h25.8M1126.7 176.4h25.8M1126.7 204h25.8M1126.7 260.2h25.8M1186 176.9h25.8M1186 181.8h25.8M1186 226.5h25.8M1186 245.8h25.8M1186 280.3h25.8M1245.3 151.5h25.8M1245.3 213.6h25.8M1245.3 227.6h25.8M1304.6 155h25.8M1304.6 196.6h25.8M1304.6 224.6h25.8M1304.6 232.6h25.8M1363.9 134.9h25.8M1363.9 139.8h25.8M1363.9 166.9h25.8M1363.9 180.1h25.8M1363.9 217.2h25.8M1363.9 265.8h25.8M1363.9 271.2h25.8M1363.9 290.2h25.8M1363.9 397.5h25.8M1363.9 462.7h25.8M1363.9 486.2h25.8M1363.9 534.9h25.8M1363.9 539.8h25.8" stroke="#f24a52" stroke-width="2" fill="none"/>
<rect x="1136.8" y="660.9" width="23.2" height="2" fill="#f47a7e"/>
<text x="1174" y="663.9" font-size="24.7" textLength="255.6" lengthAdjust="spacingAndGlyphs">Over-expressed Genes</text>
<text x="712.1" y="774.2" font-size="24.6" textLength="724" lengthAdjust="spacingAndGlyphs">The gene positions are based on GRCh38.p2(NCBI). 3746 Genes.</text>
<text x="1422" y="46.5" font-size="65" font-weight="bold">B</text>
<rect x="1530.4" y="48.4" width="368.3" height="681" fill="none" stroke="#111" stroke-width="1.5"/>
<path d="M1516.5 703.9H1530.4" stroke="#111" stroke-width="1.5"/>
<text transform="translate(1511.2,703.9) rotate(-90)" font-size="35" text-anchor="middle">0</text>
<path d="M1516.5 576.8H1530.4" stroke="#111" stroke-width="1.5"/>
<text transform="translate(1511.2,576.8) rotate(-90)" font-size="35" text-anchor="middle">2</text>
<path d="M1516.5 449.7H1530.4" stroke="#111" stroke-width="1.5"/>
<text transform="translate(1511.2,449.7) rotate(-90)" font-size="35" text-anchor="middle">4</text>
<path d="M1516.5 322.6H1530.4" stroke="#111" stroke-width="1.5"/>
<text transform="translate(1511.2,322.6) rotate(-90)" font-size="35" text-anchor="middle">6</text>
<path d="M1516.5 195.5H1530.4" stroke="#111" stroke-width="1.5"/>
<text transform="translate(1511.2,195.5) rotate(-90)" font-size="35" text-anchor="middle">8</text>
<path d="M1516.5 68.4H1530.4" stroke="#111" stroke-width="1.5"/>
<text transform="translate(1511.2,61.4) rotate(-90)" font-size="35" text-anchor="middle">10</text>
<path d="M1714.7 729.4V744.2" stroke="#111" stroke-width="1.5"/>
<path d="M1657.9 285.5V163.1M1657.9 370V490.5" stroke="#111" stroke-width="1.3" stroke-dasharray="4 3"/>
<path d="M1634.9 163.1h46M1634.9 490.5h46" stroke="#111" stroke-width="1.5"/>
<rect x="1612.3" y="285.5" width="91.1" height="84.5" fill="#f86b6f" stroke="#222" stroke-width="1.3"/>
<path d="M1612.3 321.4H1703.4" stroke="#111" stroke-width="3.2"/>
<path d="M1613.3 703.9H1702.4" stroke="#000" stroke-width="3.6" stroke-linecap="round"/>
<path d="M1659.4 330.7h0M1657.0 238.7h0M1660.1 320.3h0M1658.2 393.6h0M1665.2 302.7h0M1653.0 428.0h0M1665.6 430.2h0M1646.4 293.6h0M1669.5 203.9h0M1660.8 299.3h0M1645.8 403.5h0M1646.9 317.3h0M1651.4 391.6h0M1657.0 478.8h0M1666.5 333.0h0M1661.4 318.6h0M1662.0 321.4h0M1652.4 329.7h0M1670.3 175.6h0M1663.1 263.9h0M1651.1 357.3h0M1647.2 362.4h0M1655.4 281.6h0M1655.1 262.3h0M1666.6 221.4h0M1650.6 512.6h0M1657.1 244.9h0M1655.3 205.2h0M1661.1 441.4h0M1652.1 278.7h0M1653.7 432.4h0M1664.4 217.1h0M1651.6 417.8h0M1646.9 423.9h0M1649.8 274.2h0M1656.6 312.9h0M1663.7 391.5h0M1661.5 413.1h0M1655.9 418.3h0M1652.1 383.4h0M1665.5 212.1h0M1667.5 359.5h0M1655.3 384.2h0M1661.4 260.5h0M1670.1 424.2h0M1651.9 383.3h0M1653.6 280.0h0M1647.2 361.0h0M1660.0 430.6h0M1660.4 372.5h0M1656.7 346.3h0M1657.5 220.6h0M1667.1 310.7h0M1649.3 394.3h0M1665.8 245.8h0M1650.1 370.2h0M1668.9 287.0h0M1669.2 389.3h0M1660.5 253.8h0M1648.0 336.7h0M1669.5 469.0h0M1663.0 374.2h0M1666.0 368.7h0M1652.7 307.5h0M1663.4 397.0h0M1651.1 444.1h0M1666.7 312.9h0M1652.4 305.0h0M1650.5 241.8h0M1652.1 493.9h0M1646.9 332.0h0M1654.6 396.7h0M1648.7 311.0h0M1667.7 348.2h0M1661.8 205.1h0M1660.0 293.9h0M1646.3 409.7h0M1668.2 492.5h0M1669.5 292.5h0M1661.3 488.9h0M1663.7 324.8h0M1670.4 356.6h0M1659.1 440.0h0M1667.9 287.4h0M1663.0 287.3h0M1668.3 275.1h0M1662.5 350.2h0M1667.2 249.1h0M1665.2 337.5h0M1659.7 258.3h0M1655.0 303.4h0M1660.6 309.5h0M1661.4 436.9h0M1667.4 191.3h0M1655.1 288.6h0M1659.9 287.6h0M1666.4 333.0h0M1664.2 434.6h0M1660.4 479.2h0M1651.2 325.1h0M1657.8 292.9h0M1668.4 304.9h0M1645.7 368.9h0M1662.4 360.1h0M1649.6 387.2h0M1661.9 247.0h0M1667.7 332.7h0M1662.0 355.0h0M1656.2 388.6h0M1668.3 272.1h0M1655.0 254.2h0M1653.3 309.5h0M1657.8 411.2h0M1666.6 264.6h0M1669.2 291.1h0M1649.6 364.8h0M1652.3 331.0h0M1655.7 383.0h0M1657.7 303.3h0M1666.4 357.3h0M1656.7 204.0h0M1646.2 440.4h0M1646.4 256.0h0M1659.7 291.4h0M1665.2 358.5h0M1648.8 491.3h0M1646.0 330.2h0M1651.3 266.4h0M1646.6 409.5h0M1656.6 302.8h0M1661.8 302.7h0M1669.4 271.7h0M1650.4 294.9h0M1649.9 326.2h0M1657.2 499.8h0M1649.9 290.6h0M1654.0 365.7h0M1658.4 293.1h0M1664.3 305.0h0M1665.2 342.1h0M1647.6 246.7h0M1663.5 235.0h0M1656.7 413.5h0M1668.1 303.4h0M1659.6 345.3h0M1665.3 254.5h0M1657.0 229.8h0M1650.5 299.7h0M1665.9 289.5h0M1663.3 301.1h0M1667.9 383.3h0M1669.8 205.1h0M1665.2 316.1h0M1668.1 356.3h0M1654.1 260.1h0M1656.4 435.2h0M1664.6 314.2h0M1646.1 323.8h0M1647.0 271.3h0M1649.7 273.5h0M1665.1 353.5h0M1649.1 409.6h0M1663.5 319.0h0M1662.6 263.9h0M1657.7 229.2h0M1647.6 227.7h0M1658.6 380.4h0M1663.6 362.2h0M1658.5 301.4h0M1659.4 263.0h0M1654.9 358.0h0M1667.9 262.6h0M1666.7 385.1h0M1658.5 213.9h0M1650.4 310.9h0M1658.0 316.2h0M1646.1 306.3h0M1658.3 213.2h0M1665.4 340.7h0M1657.7 312.4h0M1647.0 294.0h0M1655.7 315.8h0M1668.5 222.3h0M1657.2 366.3h0M1656.2 414.5h0M1667.9 269.7h0M1653.3 326.0h0M1660.8 391.2h0M1648.6 238.3h0M1646.0 278.5h0M1651.1 390.2h0M1653.5 294.5h0M1660.9 349.5h0M1663.7 422.5h0M1658.2 416.0h0M1650.3 369.9h0M1656.3 317.0h0M1655.7 345.6h0M1649.4 317.2h0M1661.2 386.6h0M1658.6 301.5h0M1660.7 261.2h0M1651.2 259.9h0M1665.7 286.8h0M1653.3 248.3h0M1668.5 357.4h0M1670.4 381.5h0M1648.7 252.5h0M1663.6 373.9h0M1647.8 368.2h0M1655.9 265.8h0M1648.6 275.9h0M1662.5 340.3h0M1650.4 492.7h0M1668.2 295.2h0M1648.3 213.9h0M1664.4 320.6h0M1662.5 321.0h0M1647.2 392.1h0M1646.3 422.0h0M1658.3 314.0h0M1649.1 311.5h0M1650.5 393.7h0M1670.2 263.9h0M1647.8 237.6h0M1669.2 448.5h0M1664.5 328.8h0M1657.1 355.1h0M1656.2 319.2h0M1645.7 306.9h0M1666.5 292.5h0M1656.7 394.9h0M1655.5 287.0h0M1649.5 389.9h0M1645.8 319.6h0M1665.4 251.2h0M1666.9 292.0h0M1655.5 302.8h0M1658.0 307.1h0M1665.5 203.5h0M1668.2 368.4h0M1664.8 286.3h0M1655.5 270.0h0M1667.4 250.3h0M1664.6 293.4h0M1655.5 281.8h0M1647.2 289.4h0M1657.1 352.2h0M1654.3 499.9h0M1661.0 301.5h0M1669.0 376.5h0M1653.8 297.5h0M1659.6 298.4h0M1655.1 316.6h0M1661.5 164.3h0M1664.4 292.5h0M1646.0 205.4h0M1663.9 304.8h0M1655.4 368.7h0M1650.3 455.8h0M1647.9 345.6h0M1668.0 369.8h0M1658.1 314.2h0M1659.6 214.8h0M1661.4 188.6h0M1647.3 271.2h0M1664.4 307.4h0M1668.7 461.6h0M1657.2 402.6h0M1657.8 399.3h0M1646.9 305.4h0M1655.9 229.4h0M1660.3 317.5h0M1652.5 347.5h0M1659.4 299.1h0M1663.3 363.5h0M1645.8 361.1h0M1646.5 371.8h0M1664.3 403.8h0M1667.8 342.8h0M1646.7 285.7h0M1669.0 197.1h0M1668.0 441.1h0M1657.3 335.1h0M1651.5 210.4h0M1668.8 318.0h0M1657.1 289.4h0M1665.8 206.3h0M1648.3 306.5h0M1656.8 303.5h0M1646.7 386.8h0M1648.5 317.4h0M1662.1 332.5h0M1652.0 330.0h0M1655.9 309.6h0M1658.7 278.8h0M1669.2 175.8h0M1651.4 287.7h0M1667.7 419.3h0M1661.0 277.3h0M1652.2 348.8h0M1659.5 294.8h0M1661.2 308.2h0M1650.1 284.7h0M1669.9 370.4h0M1667.4 242.5h0M1646.9 468.1h0M1656.0 365.9h0M1648.0 303.7h0M1647.2 315.4h0M1662.3 432.9h0M1661.2 314.1h0M1657.4 346.1h0M1654.0 384.3h0M1666.4 286.2h0M1648.4 440.6h0M1661.0 271.3h0M1650.7 281.0h0M1651.9 336.1h0M1654.6 271.1h0M1670.1 299.3h0M1659.1 355.3h0M1668.4 286.0h0M1654.6 335.5h0M1667.3 426.2h0M1647.5 437.9h0M1657.5 312.2h0M1652.9 294.8h0M1647.3 279.4h0M1662.0 383.3h0M1653.0 435.9h0M1662.7 289.1h0M1649.0 363.6h0M1663.5 349.0h0M1648.3 347.4h0M1659.6 291.3h0M1668.9 241.3h0M1656.3 243.6h0M1653.0 272.8h0M1655.4 356.9h0M1667.8 234.1h0M1654.4 370.6h0M1654.5 347.5h0M1655.1 341.7h0M1659.5 389.9h0M1658.9 274.2h0M1659.5 264.8h0M1664.4 396.6h0M1652.4 254.1h0M1658.3 487.8h0M1659.6 315.1h0M1661.7 215.4h0M1647.0 272.5h0M1665.1 314.7h0M1647.4 434.4h0M1667.9 287.3h0M1661.3 434.0h0M1664.0 408.4h0M1651.5 300.0h0M1664.5 380.7h0M1664.5 318.3h0M1653.8 341.9h0M1662.2 214.0h0M1658.8 322.6h0M1663.1 289.7h0M1655.7 242.9h0M1662.1 267.2h0M1665.5 260.7h0M1667.6 265.4h0M1661.4 221.6h0M1663.2 318.0h0M1655.9 273.0h0M1649.1 336.9h0M1670.2 286.7h0M1649.6 345.6h0M1656.0 386.5h0M1669.6 361.8h0M1653.1 450.2h0M1661.6 418.9h0M1649.9 279.3h0M1656.9 448.2h0M1668.1 309.3h0M1648.1 471.6h0M1650.8 393.7h0M1663.3 375.3h0M1651.0 307.8h0M1652.4 393.5h0M1664.3 398.0h0M1659.1 358.0h0M1657.4 269.4h0M1667.6 368.0h0M1654.0 243.2h0M1669.3 314.6h0M1650.9 324.8h0M1669.1 456.4h0M1655.0 273.2h0M1658.3 317.4h0M1670.2 365.2h0M1651.3 298.8h0M1657.2 499.6h0M1657.9 111.6h0M1659.4 112.9h0M1657.4 142.8h0M1649.9 500.5h0M1653.9 506.9h0M1659.9 497.4h0M1667.4 518.3h0M1651.9 576.8h0M1658.9 611.8h0" stroke="#000" stroke-width="4.4" stroke-linecap="round" fill="none"/>
<path d="M1771.7 330.3V166.9M1771.7 446.6V534" stroke="#111" stroke-width="1.3" stroke-dasharray="4 3"/>
<path d="M1748.7 166.9h46M1748.7 534h46" stroke="#111" stroke-width="1.5"/>
<rect x="1726.3" y="330.3" width="90.7" height="116.3" fill="#7e7c82" stroke="#222" stroke-width="1.3"/>
<path d="M1726.3 406.5H1817" stroke="#111" stroke-width="3.2"/>
<path d="M1727.3 703.9H1816" stroke="#000" stroke-width="3.6" stroke-linecap="round"/>
<path d="M1775.3 410.6h0M1763.5 355.8h0M1768.8 526.3h0M1778.8 442.7h0M1774.0 348.4h0M1775.4 388.8h0M1770.3 470.9h0M1781.0 467.0h0M1779.0 497.2h0M1776.0 491.2h0M1769.5 432.6h0M1760.6 290.3h0M1781.2 496.4h0M1762.3 403.8h0M1782.0 181.2h0M1769.9 478.6h0M1767.4 473.3h0M1764.0 369.5h0M1761.4 346.5h0M1779.0 464.9h0M1769.8 422.4h0M1771.2 377.2h0M1760.9 425.0h0M1782.5 337.5h0M1775.5 193.1h0M1768.6 429.5h0M1775.7 348.5h0M1765.6 478.3h0M1772.0 428.4h0M1771.7 304.3h0M1779.1 514.4h0M1772.1 417.7h0M1770.0 453.1h0M1778.0 424.4h0M1772.8 480.9h0M1776.2 463.3h0M1766.6 508.9h0M1774.8 431.5h0M1770.8 499.8h0M1766.7 456.2h0M1782.3 410.3h0M1782.2 409.5h0M1781.5 465.8h0M1764.6 428.3h0M1781.2 330.7h0M1766.4 529.3h0M1768.1 321.3h0M1760.4 448.5h0M1774.4 506.9h0M1783.2 184.9h0M1760.7 405.4h0M1778.3 435.0h0M1774.9 294.8h0M1772.3 451.4h0M1774.6 410.1h0M1782.0 444.6h0M1763.9 267.9h0M1780.3 440.0h0M1781.9 442.0h0M1776.2 401.9h0M1765.1 344.1h0M1766.1 441.0h0M1776.2 350.6h0M1780.6 474.1h0M1765.7 419.3h0M1782.7 416.9h0M1774.6 388.2h0M1782.3 247.7h0M1769.8 325.8h0M1780.9 379.5h0M1773.5 313.3h0M1768.7 431.0h0M1773.2 334.6h0M1776.5 521.7h0M1778.5 262.0h0M1781.1 266.5h0M1778.3 395.8h0M1762.5 425.8h0M1767.4 430.0h0M1776.0 235.1h0M1774.5 393.8h0M1772.5 475.7h0M1769.3 345.3h0M1769.6 447.6h0M1776.0 434.8h0M1762.3 471.8h0M1776.2 436.6h0M1775.4 326.1h0M1768.6 234.5h0M1771.4 513.4h0M1764.3 415.5h0M1768.0 355.5h0M1767.7 449.3h0M1760.4 226.4h0M1766.6 428.9h0M1770.1 457.9h0M1781.3 453.5h0M1776.3 406.2h0M1770.9 467.0h0M1779.6 374.0h0M1770.8 446.6h0M1779.3 284.9h0M1772.6 451.8h0M1769.3 325.4h0M1775.5 353.6h0M1772.9 197.2h0M1768.3 351.4h0M1767.6 335.7h0M1768.5 406.5h0M1763.3 437.4h0M1772.7 452.2h0M1761.3 446.3h0M1766.8 307.1h0M1774.0 233.3h0M1780.3 424.3h0M1767.6 266.6h0M1774.9 475.5h0M1774.2 290.2h0M1769.7 315.4h0M1766.3 370.6h0M1768.9 421.4h0M1769.4 425.0h0M1764.1 305.6h0M1766.1 457.0h0M1772.2 198.6h0M1779.4 499.4h0M1779.1 276.9h0M1777.1 429.1h0M1763.4 437.7h0M1779.4 280.4h0M1780.4 455.6h0M1767.3 516.7h0M1764.1 524.8h0M1776.7 466.8h0M1764.6 439.1h0M1767.4 461.9h0M1774.2 281.8h0M1776.0 480.9h0M1770.5 395.4h0M1775.2 398.1h0M1771.8 308.4h0M1770.9 365.2h0M1769.1 365.6h0M1772.1 420.1h0M1766.6 341.0h0M1771.5 243.3h0M1776.1 284.7h0M1775.9 214.2h0M1769.5 418.2h0M1777.5 373.7h0M1763.2 291.8h0M1762.7 495.8h0M1761.5 487.5h0M1765.9 528.1h0M1776.0 478.4h0M1782.4 371.2h0M1777.4 209.8h0M1760.8 221.3h0M1781.5 451.7h0M1765.0 410.4h0M1769.9 327.3h0M1767.5 393.4h0M1762.2 448.5h0M1782.1 373.9h0M1777.8 181.7h0M1768.5 235.7h0M1781.4 438.9h0M1775.6 376.0h0M1765.5 525.1h0M1777.0 409.3h0M1777.6 297.5h0M1769.0 432.2h0M1783.0 281.7h0M1764.7 408.9h0M1772.5 368.6h0M1765.5 428.7h0M1774.3 424.9h0M1772.6 475.2h0M1777.3 218.5h0M1769.8 446.2h0M1777.2 480.9h0M1764.2 366.3h0M1773.9 391.8h0M1768.9 383.0h0M1768.4 437.0h0M1767.8 169.6h0M1770.8 405.7h0M1769.4 464.5h0M1767.6 457.1h0M1768.2 427.8h0M1767.0 231.6h0M1775.3 433.4h0M1772.1 423.0h0M1761.9 361.5h0M1762.5 354.2h0M1778.8 446.5h0M1775.7 178.5h0M1770.3 464.8h0M1779.5 441.4h0M1764.7 450.5h0M1774.9 364.4h0M1771.2 379.1h0M1770.7 211.3h0M1769.2 232.5h0M1768.5 412.0h0M1765.7 102.1h0M1769.2 130.0h0M1771.7 138.3h0M1781.2 147.8h0M1781.7 154.2h0" stroke="#000" stroke-width="4.4" stroke-linecap="round" fill="none"/>
<path d="M1657.6 98.7V74.1H1771.2V89.2" stroke="#222" stroke-width="1.5" fill="none"/>
<rect x="1704.1" y="71.1" width="21" height="6" fill="#fff"/>
<text x="1714.6" y="97.4" font-size="45" text-anchor="middle" fill="#e8251f">*</text>
<text transform="translate(1468.8,372.2) rotate(-90)" font-size="34" text-anchor="middle" textLength="383" lengthAdjust="spacingAndGlyphs">Expression-log2 (TPM+1)</text>
<text x="1687.9" y="777.4" font-size="30" text-anchor="middle" textLength="86" lengthAdjust="spacingAndGlyphs">STAD</text>
<text x="1693.1" y="805" font-size="32" text-anchor="middle" textLength="418" lengthAdjust="spacingAndGlyphs">(num(T)=408; num(N)=211)</text>
<text x="822" y="899.2" font-size="62.5" font-weight="bold">D</text>
<rect x="928" y="847.7" width="352.6" height="652.3" fill="none" stroke="#111" stroke-width="1.5"/>
<path d="M914.3 1475.7H928" stroke="#111" stroke-width="1.5"/>
<text transform="translate(906.5,1468.2) rotate(-90)" font-size="31" text-anchor="middle">0.0</text>
<path d="M914.3 1389H928" stroke="#111" stroke-width="1.5"/>
<text transform="translate(906.5,1381.5) rotate(-90)" font-size="31" text-anchor="middle">0.5</text>
<path d="M914.3 1302.3H928" stroke="#111" stroke-width="1.5"/>
<text transform="translate(906.5,1294.8) rotate(-90)" font-size="31" text-anchor="middle">1.0</text>
<path d="M914.3 1215.6H928" stroke="#111" stroke-width="1.5"/>
<text transform="translate(906.5,1208.1) rotate(-90)" font-size="31" text-anchor="middle">1.5</text>
<path d="M914.3 1128.9H928" stroke="#111" stroke-width="1.5"/>
<text transform="translate(906.5,1121.4) rotate(-90)" font-size="31" text-anchor="middle">2.0</text>
<path d="M914.3 1042.2H928" stroke="#111" stroke-width="1.5"/>
<text transform="translate(906.5,1034.7) rotate(-90)" font-size="31" text-anchor="middle">2.5</text>
<path d="M914.3 955.5H928" stroke="#111" stroke-width="1.5"/>
<text transform="translate(906.5,948) rotate(-90)" font-size="31" text-anchor="middle">3.0</text>
<path d="M914.3 868.8H928" stroke="#111" stroke-width="1.5"/>
<text transform="translate(906.5,861.3) rotate(-90)" font-size="31" text-anchor="middle">3.5</text>
<path d="M1104.3 1500V1512.9" stroke="#111" stroke-width="1.5"/>
<path d="M1049.9 1345.7V1220.6M1049.9 1433.1V1475.7" stroke="#111" stroke-width="1.3" stroke-dasharray="4 3"/>
<path d="M1026.9 1220.6h46M1026.9 1475.7h46" stroke="#111" stroke-width="1.5"/>
<rect x="1006.3" y="1345.7" width="87.1" height="87.4" fill="#f86b6f" stroke="#222" stroke-width="1.3"/>
<path d="M1006.3 1404.3H1093.4" stroke="#111" stroke-width="3.2"/>
<path d="M1007.3 1475.7H1092.4" stroke="#000" stroke-width="3.6" stroke-linecap="round"/>
<path d="M1054.8 1449.6h0M1049.4 1372.6h0M1057.5 1439.7h0M1050.2 1322.6h0M1043.0 1403.1h0M1046.5 1475.4h0M1038.7 1384.2h0M1042.9 1328.2h0M1038.0 1436.5h0M1056.1 1065.4h0M1052.9 1287.2h0M1045.5 1472.7h0M1039.9 1404.5h0M1046.5 1216.3h0M1058.2 1451.6h0M1061.0 1457.4h0M1051.3 1409.7h0M1049.5 1422.4h0M1037.9 1445.4h0M1043.0 1294.0h0M1042.3 1333.6h0M1060.1 1177.8h0M1056.7 1343.7h0M1055.9 1385.3h0M1049.3 1457.9h0M1042.1 1314.9h0M1060.0 1250.3h0M1046.4 1414.7h0M1046.9 1409.9h0M1047.0 1075.7h0M1039.3 1473.4h0M1062.7 1353.1h0M1049.7 1404.7h0M1056.4 1392.4h0M1052.7 1438.5h0M1053.1 1391.0h0M1041.3 1446.6h0M1061.0 1421.8h0M1052.4 1422.0h0M1039.6 1426.6h0M1058.1 1469.4h0M1046.6 1334.9h0M1054.5 1361.3h0M1061.8 1269.6h0M1062.6 1415.0h0M1052.3 1194.6h0M1049.7 1281.1h0M1043.3 1418.6h0M1041.1 1286.3h0M1057.8 1468.6h0M1049.5 1336.1h0M1038.3 1311.0h0M1044.4 1432.2h0M1041.3 1413.5h0M1045.7 1468.6h0M1062.5 1269.2h0M1049.4 1346.6h0M1061.8 1432.8h0M1055.8 1398.3h0M1042.4 1473.2h0M1057.6 1310.4h0M1052.5 1282.4h0M1052.0 1412.8h0M1044.9 1306.0h0M1044.1 1396.2h0M1037.2 1338.4h0M1061.7 1360.8h0M1052.3 1473.7h0M1059.0 1370.5h0M1043.6 1384.5h0M1061.8 1415.1h0M1040.4 1264.4h0M1039.3 1463.5h0M1048.5 1473.5h0M1059.5 1454.3h0M1040.2 1367.8h0M1045.3 1395.2h0M1042.6 1405.0h0M1041.7 1449.4h0M1055.4 1418.4h0M1038.1 1392.5h0M1059.6 1354.8h0M1057.5 1336.0h0M1049.0 1475.0h0M1056.8 1469.8h0M1055.4 1447.6h0M1055.0 1432.8h0M1038.0 1425.8h0M1044.9 1417.1h0M1044.6 1268.1h0M1051.2 1403.5h0M1039.5 1222.8h0M1050.1 1380.5h0M1062.0 1349.3h0M1055.1 1426.2h0M1051.5 1398.2h0M1058.1 1469.7h0M1046.1 1155.0h0M1062.7 1425.2h0M1038.9 1460.9h0M1058.1 1467.8h0M1048.5 1341.7h0M1037.4 1375.8h0M1048.4 1370.3h0M1047.0 1400.2h0M1042.8 1415.6h0M1048.2 1471.5h0M1055.2 1433.7h0M1055.7 1318.8h0M1043.0 1409.3h0M1049.6 1417.5h0M1061.9 1373.4h0M1049.4 1465.4h0M1055.5 1405.2h0M1057.2 1275.7h0M1056.6 1374.5h0M1059.2 1364.9h0M1054.7 1357.6h0M1060.7 1434.0h0M1052.9 1417.4h0M1062.0 1315.8h0M1037.1 1097.9h0M1045.0 1425.9h0M1040.7 1416.8h0M1039.0 1391.8h0M1061.4 1427.0h0M1048.9 1347.4h0M1061.8 1460.7h0M1042.3 1356.4h0M1053.6 1423.3h0M1043.7 1361.7h0M1045.3 1218.0h0M1058.9 1432.6h0M1054.6 1451.9h0M1052.4 1442.8h0M1046.8 1429.9h0M1049.0 1231.0h0M1052.9 1411.5h0M1041.4 1429.6h0M1044.0 1417.6h0M1061.9 1445.1h0M1058.0 1472.7h0M1055.2 1237.5h0M1049.9 1474.1h0M1052.7 1472.3h0M1043.1 1357.3h0M1051.1 1475.0h0M1044.9 1463.5h0M1060.2 1409.6h0M1040.4 1419.2h0M1058.3 1329.0h0M1038.2 1397.4h0M1047.4 1445.2h0M1042.8 1392.1h0M1058.8 1324.8h0M1059.9 1248.1h0M1052.0 1474.2h0M1060.3 1466.4h0M1056.6 1346.4h0M1038.5 1445.1h0M1052.7 1319.6h0M1049.1 1376.1h0M1045.7 1325.7h0M1046.1 1430.8h0M1053.2 1427.6h0M1038.7 1275.9h0M1050.2 1469.0h0M1041.8 1362.5h0M1038.4 1430.8h0M1049.8 1472.5h0M1053.9 1361.9h0M1039.6 1450.9h0M1050.9 1241.8h0M1054.9 1414.8h0M1050.5 1350.9h0M1058.4 1466.8h0M1038.0 1440.1h0M1050.7 1421.3h0M1041.4 1374.2h0M1049.7 1355.1h0M1059.0 1450.2h0M1060.5 1323.0h0M1042.6 1362.2h0M1060.4 1334.6h0M1060.5 1396.5h0M1047.0 1174.6h0M1061.3 1229.8h0M1037.2 1328.2h0M1052.9 1421.3h0M1056.5 1379.1h0M1041.1 1369.8h0M1050.8 1241.9h0M1042.3 1282.2h0M1051.3 1063.5h0M1056.1 1335.4h0M1046.3 1281.4h0M1047.4 1465.9h0M1050.9 1447.0h0M1046.3 1319.7h0M1037.6 1456.2h0M1052.0 1413.1h0M1054.2 1473.4h0M1039.7 1440.7h0M1050.5 1245.3h0M1050.3 1272.3h0M1043.1 1457.8h0M1053.6 1413.0h0M1056.4 1337.3h0M1043.5 1368.9h0M1046.7 1412.3h0M1043.8 1405.5h0M1048.8 1395.4h0M1058.3 1472.6h0M1057.8 1384.0h0M1055.9 1348.8h0M1046.7 1081.0h0M1037.0 1416.5h0M1052.0 1365.7h0M1062.8 1386.3h0M1042.8 1443.4h0M1058.0 1349.4h0M1038.3 1406.2h0M1058.4 1419.2h0M1048.9 1404.3h0M1053.2 1417.0h0M1054.9 1381.2h0M1056.4 1294.4h0M1043.4 1418.7h0M1057.5 1332.9h0M1042.1 1244.8h0M1060.1 1306.7h0M1044.9 1467.0h0M1040.7 1372.9h0M1043.8 1313.3h0M1044.6 1361.5h0M1042.3 1439.3h0M1055.4 1404.5h0M1054.7 1439.3h0M1053.8 1423.3h0M1041.9 1419.5h0M1038.4 1454.3h0M1047.7 1358.2h0M1059.8 1457.7h0M1037.5 1368.0h0M1052.4 1351.6h0M1049.9 1410.7h0M1046.6 1192.8h0M1053.4 1372.3h0M1045.9 1419.7h0M1053.4 1343.7h0M1050.3 1409.2h0M1057.4 1438.2h0M1053.6 1474.0h0M1042.7 1409.5h0M1052.1 1383.9h0M1049.6 1465.1h0M1057.7 1449.6h0M1045.4 1424.2h0M1038.2 1439.8h0M1040.8 1445.4h0M1058.9 1375.1h0M1039.8 1438.7h0M1039.9 1396.2h0M1056.7 1415.2h0M1055.1 1442.2h0M1039.1 1395.2h0M1052.5 1434.5h0M1042.2 1463.2h0M1058.2 1386.3h0M1054.2 1399.5h0M1044.8 1474.9h0M1060.6 1425.2h0M1057.3 1420.7h0M1049.9 1472.7h0M1057.0 1275.0h0M1041.6 1385.6h0M1039.0 1246.9h0M1057.1 1187.1h0M1050.7 1352.8h0M1045.8 1449.8h0M1054.0 1365.8h0M1057.7 1417.0h0M1044.4 1471.1h0M1045.3 1464.3h0M1056.5 1328.5h0M1044.9 1452.7h0M1054.1 1460.0h0M1042.9 1410.9h0M1059.4 1418.8h0M1054.9 1412.9h0M1049.2 1374.3h0M1046.4 1391.0h0M1049.8 1443.1h0M1045.5 1426.8h0M1060.6 1445.4h0M1042.1 1412.9h0M1042.5 1472.9h0M1045.7 1292.0h0M1042.9 1365.1h0M1048.6 1369.0h0M1050.6 1348.8h0M1044.2 1418.6h0M1058.5 1382.2h0M1049.4 1359.3h0M1060.1 1424.0h0M1040.7 1307.3h0M1057.0 1362.2h0M1062.0 1363.0h0M1043.3 1284.2h0M1045.4 1068.5h0M1062.3 1418.1h0M1047.2 1449.2h0M1044.0 1374.7h0M1057.5 1431.1h0M1056.2 1377.9h0M1059.6 1329.7h0M1058.3 1273.4h0M1049.9 1147.6h0M1050.3 1357.0h0M1053.9 1176.6h0M1054.2 1412.3h0M1040.3 1427.9h0M1040.5 1417.4h0M1039.3 1475.4h0M1056.7 1409.5h0M1053.5 1471.5h0M1050.2 1460.1h0M1048.5 1427.8h0M1047.6 1354.6h0M1055.8 1416.7h0M1046.0 1459.2h0M1058.6 1356.9h0M1043.6 1143.2h0M1045.0 1374.9h0M1058.9 1356.9h0M1045.9 1455.4h0M1046.1 1235.9h0M1058.2 1373.3h0M1057.3 1429.8h0M1045.8 1475.4h0M1045.9 1449.2h0M1037.6 1440.3h0M1041.4 1324.5h0M1051.3 1387.1h0M1058.9 1306.0h0M1041.3 1375.7h0M1039.4 1341.3h0M1044.9 1244.3h0M1042.5 1432.8h0M1057.5 1416.2h0M1056.3 1302.1h0M1043.2 1350.5h0M1044.8 1424.9h0M1059.6 1411.9h0M1039.1 1071.5h0M1060.8 1187.4h0M1054.9 1408.8h0M1041.8 1331.9h0M1062.4 1377.1h0M1060.6 1283.2h0M1055.5 1465.5h0M1060.5 1405.8h0M1051.2 1449.2h0M1057.8 1458.2h0M1037.7 1352.1h0M1040.6 1426.2h0M1053.3 1372.5h0M1061.6 1470.0h0M1048.4 1185.9h0M1046.3 1386.9h0M1047.3 1379.4h0M1056.4 1411.1h0M1044.7 1445.4h0M1042.7 1340.2h0M1060.6 1468.7h0M1047.6 1450.7h0M1043.7 1425.8h0M1050.9 1421.3h0M1050.8 1459.2h0M1039.0 1471.3h0M1043.1 1442.4h0M1044.5 1422.5h0M1054.0 1311.0h0M1057.0 1407.4h0M1045.1 1360.7h0M1056.3 1377.1h0M1056.5 1396.2h0M1061.0 1373.1h0M1054.4 1431.5h0M1050.6 1155.1h0M1039.4 1264.7h0M1043.8 1351.9h0M1047.9 1345.5h0M1043.4 1396.0h0M1059.4 1432.3h0M1053.2 1370.7h0M1044.5 1459.2h0M1042.2 1179.3h0M1055.0 1395.4h0M1051.3 1401.8h0M1046.9 901.7h0M1039.9 1059.5h0M1045.9 1066.5h0M1047.9 1076.9h0M1046.9 1094.2h0M1038.9 1120.2h0" stroke="#000" stroke-width="4.0" stroke-linecap="round" fill="none"/>
<path d="M1158.6 1425.8V1387.7M1158.6 1452V1475.7" stroke="#111" stroke-width="1.3" stroke-dasharray="4 3"/>
<path d="M1135.6 1387.7h46M1135.6 1475.7h46" stroke="#111" stroke-width="1.5"/>
<rect x="1114.9" y="1425.8" width="87.4" height="26.2" fill="#7e7c82" stroke="#222" stroke-width="1.3"/>
<path d="M1114.9 1445.7H1202.3" stroke="#111" stroke-width="3.2"/>
<path d="M1115.9 1475.7H1201.3" stroke="#000" stroke-width="3.6" stroke-linecap="round"/>
<path d="M1149.6 1389.6h0M1171.1 1472.6h0M1149.1 1456.3h0M1154.7 1433.6h0M1151.9 1410.9h0M1154.1 1389.2h0M1169.4 1437.6h0M1169.2 1430.9h0M1147.3 1429.1h0M1160.8 1411.8h0M1150.9 1450.5h0M1160.7 1415.1h0M1165.4 1396.6h0M1160.3 1388.5h0M1161.4 1429.9h0M1170.0 1451.8h0M1165.6 1450.4h0M1162.4 1390.9h0M1166.7 1459.1h0M1150.7 1432.3h0M1159.4 1469.2h0M1169.2 1471.5h0M1159.0 1445.2h0M1162.6 1448.0h0M1153.8 1404.1h0M1160.7 1448.9h0M1161.0 1450.8h0M1156.9 1442.3h0M1159.3 1431.9h0M1171.0 1463.5h0M1156.9 1449.3h0M1169.3 1448.1h0M1158.9 1391.7h0M1148.5 1448.2h0M1150.4 1410.3h0M1154.8 1442.0h0M1155.0 1450.0h0M1147.0 1455.8h0M1166.0 1442.9h0M1151.1 1434.0h0M1147.4 1430.3h0M1166.8 1447.9h0M1157.6 1402.5h0M1158.6 1415.5h0M1160.7 1443.8h0M1164.7 1375.4h0M1164.3 1446.4h0M1154.9 1434.3h0M1166.6 1422.1h0M1169.7 1437.1h0M1158.6 1473.3h0M1154.6 1435.0h0M1163.4 1457.1h0M1152.8 1447.4h0M1170.3 1470.2h0M1149.1 1449.4h0M1152.5 1454.2h0M1150.6 1413.4h0M1148.5 1451.3h0M1151.3 1446.5h0M1164.5 1449.6h0M1167.0 1401.1h0M1155.5 1470.7h0M1146.9 1415.2h0M1158.3 1455.1h0M1164.9 1448.7h0M1157.7 1428.3h0M1151.9 1452.1h0M1147.7 1451.6h0M1150.0 1432.5h0M1162.2 1410.9h0M1158.6 1468.1h0M1147.2 1437.4h0M1146.8 1446.0h0M1146.2 1424.0h0M1170.7 1435.2h0M1151.9 1415.5h0M1149.6 1442.9h0M1167.7 1449.7h0M1146.3 1418.6h0M1162.1 1448.7h0M1166.2 1456.9h0M1159.9 1410.5h0M1167.3 1449.2h0M1150.8 1444.7h0M1150.1 1451.3h0M1158.8 1416.3h0M1166.5 1430.0h0M1150.9 1383.0h0M1168.0 1448.1h0M1155.8 1424.5h0M1151.0 1433.3h0M1147.4 1457.8h0M1152.0 1448.7h0M1170.3 1444.3h0M1160.0 1458.4h0M1161.1 1413.6h0M1165.3 1443.5h0M1169.8 1472.9h0M1166.3 1430.8h0M1148.6 1417.8h0M1150.6 1466.7h0M1169.6 1445.3h0M1156.4 1406.6h0M1164.6 1435.9h0M1170.4 1449.9h0M1164.3 1395.3h0M1166.1 1409.3h0M1154.1 1433.6h0M1152.1 1451.2h0M1169.2 1468.0h0M1146.7 1450.8h0M1148.7 1450.3h0M1154.4 1447.1h0M1158.0 1456.9h0M1155.0 1447.8h0M1153.8 1419.0h0M1168.0 1442.4h0M1155.5 1389.3h0M1169.9 1470.4h0M1151.5 1444.6h0M1152.1 1460.0h0M1149.6 1450.5h0M1171.0 1469.2h0M1148.9 1418.3h0M1166.1 1446.2h0M1147.8 1445.3h0M1155.6 1449.7h0M1160.7 1404.8h0M1161.9 1446.7h0M1163.3 1469.3h0M1162.9 1419.6h0M1153.2 1449.2h0M1148.2 1474.4h0M1157.4 1458.3h0M1151.5 1422.8h0M1162.0 1446.4h0M1146.6 1435.4h0M1160.7 1402.7h0M1152.1 1450.7h0M1169.4 1430.6h0M1156.1 1449.8h0M1150.5 1441.1h0M1169.0 1448.1h0M1166.7 1441.2h0M1167.8 1451.7h0M1151.7 1422.3h0M1163.1 1443.3h0M1161.1 1439.9h0M1159.9 1452.6h0M1166.0 1449.4h0M1170.6 1448.9h0M1151.8 1439.3h0M1149.3 1447.8h0M1147.2 1426.8h0M1153.8 1437.3h0M1149.3 1422.9h0M1163.9 1431.3h0M1149.4 1453.1h0M1162.3 1448.9h0M1146.3 1451.7h0M1166.3 1447.2h0M1169.6 1458.0h0M1150.1 1445.0h0M1155.4 1461.8h0M1150.5 1446.3h0M1158.6 1464.1h0M1157.2 1451.9h0M1163.5 1446.9h0M1151.8 1439.5h0M1167.6 1456.6h0M1149.2 1469.0h0M1166.8 1466.2h0M1169.2 1442.4h0M1154.5 1435.6h0M1164.4 1447.5h0M1166.2 1453.2h0M1147.2 1448.0h0M1160.1 1449.6h0M1168.7 1458.8h0M1158.9 1400.7h0M1163.3 1408.2h0M1150.1 1442.7h0M1169.1 1391.5h0M1155.7 1446.9h0M1161.6 1465.6h0M1155.8 1414.6h0M1161.4 1451.0h0M1150.3 1421.2h0M1162.2 1451.2h0M1166.5 1470.3h0M1166.9 1450.3h0M1150.2 1446.8h0M1148.9 1473.2h0M1165.0 1451.7h0M1161.9 1421.1h0M1162.7 1450.6h0M1155.3 1427.2h0M1157.8 1464.5h0M1150.8 1453.8h0M1148.0 1448.5h0M1153.1 1410.0h0M1164.5 1410.0h0M1168.6 1474.3h0M1159.2 1419.4h0M1162.6 1359.5h0M1165.6 1361.3h0M1149.6 1371.7h0" stroke="#000" stroke-width="4.0" stroke-linecap="round" fill="none"/>
<path d="M1049.1 886.3V872H1158.6V1345.7" stroke="#222" stroke-width="1.5" fill="none"/>
<rect x="1094.1" y="869" width="21" height="6" fill="#fff"/>
<text x="1104.6" y="894.8" font-size="45" text-anchor="middle" fill="#e8251f">*</text>
<text transform="translate(850,1120.5) rotate(-90)" font-size="34" text-anchor="middle" textLength="366" lengthAdjust="spacingAndGlyphs">Expression-log2 (TPM+1)</text>
<text x="1092.7" y="1546.6" font-size="30" text-anchor="middle" textLength="86" lengthAdjust="spacingAndGlyphs">STAD</text>
<text x="1097.3" y="1578" font-size="32" text-anchor="middle" textLength="400" lengthAdjust="spacingAndGlyphs">(num(T)=408; num(N)=211)</text>
<text x="12" y="900.6" font-size="61.5" font-weight="bold">C</text>
<circle cx="235.8" cy="1239.4" r="210" fill="#96a183"/>
<circle cx="469.6" cy="1239.4" r="209.7" fill="#b9cce8"/>
<clipPath id="cl"><circle cx="235.8" cy="1239.4" r="210"/></clipPath>
<circle cx="469.6" cy="1239.4" r="209.7" fill="#7e9fa3" clip-path="url(#cl)"/>
<text x="107.6" y="1012.7" font-size="36" fill="#2e6b30" textLength="154.3" lengthAdjust="spacingAndGlyphs">hTFtarget</text>
<text x="497.7" y="1012.7" font-size="36" fill="#6a98c8" textLength="176.8" lengthAdjust="spacingAndGlyphs">GC-ncRNA</text>
<text x="128.6" y="1244" font-size="35" textLength="94.1" lengthAdjust="spacingAndGlyphs">14151</text>
<text x="349.3" y="1244" font-size="35" textLength="36.4" lengthAdjust="spacingAndGlyphs">10</text>
<text x="512.3" y="1244" font-size="35" textLength="37.6" lengthAdjust="spacingAndGlyphs">27</text>
<text x="1424" y="899.6" font-size="63" font-weight="bold">E</text>
<path d="M1499.8 1055V1467.9M1482 1467.9H1903" stroke="#000" stroke-width="4.6" fill="none"/>
<path d="M1482 1467.8H1499" stroke="#000" stroke-width="4.2"/>
<text x="1477.2" y="1478.4" font-size="32.3" text-anchor="end">0.0</text>
<path d="M1482 1364.7H1499" stroke="#000" stroke-width="4.2"/>
<text x="1477.2" y="1375.3" font-size="32.3" text-anchor="end">0.5</text>
<path d="M1482 1261.6H1499" stroke="#000" stroke-width="4.2"/>
<text x="1477.2" y="1272.2" font-size="32.3" text-anchor="end">1.0</text>
<path d="M1482 1158.5H1499" stroke="#000" stroke-width="4.2"/>
<text x="1477.2" y="1169.1" font-size="32.3" text-anchor="end">1.5</text>
<path d="M1482 1055.4H1499" stroke="#000" stroke-width="4.2"/>
<text x="1477.2" y="1066" font-size="32.3" text-anchor="end">2.0</text>
<path d="M1613.8 1467.8V1486" stroke="#000" stroke-width="5"/>
<path d="M1785.8 1467.8V1486" stroke="#000" stroke-width="5"/>
<text x="1608.1" y="1517.7" font-size="30.4" text-anchor="middle" textLength="97.9" lengthAdjust="spacingAndGlyphs">Normal</text>
<text x="1785.7" y="1517.7" font-size="30.4" text-anchor="middle" textLength="90.6" lengthAdjust="spacingAndGlyphs">Tumor</text>
<text transform="translate(1419,1264) rotate(-90)" font-size="34.5" text-anchor="middle" textLength="505" lengthAdjust="spacingAndGlyphs">Relative expression of KCNQ1OT1</text>
<path d="M1611 1031.8H1782" stroke="#0b0b0b" stroke-width="6.6" fill="none"/>
<path d="M1606.6 1013h9v37.4h-9zM1777.5 1013h9.1v37.4h-9.1z" fill="#0b0b0b"/>
<text x="1686.5" y="1025.8" font-size="37" text-anchor="middle" fill="#0b0b0b" textLength="42" lengthAdjust="spacing">***</text>
<path d="M1546.2 1272h0M1614.3 1215.1h0M1622.7 1218.8h0M1605.9 1221.6h0M1594.7 1229.1h0M1633 1230h0M1609.7 1238.4h0M1620.9 1239.3h0M1632.1 1238.4h0M1647 1244h0M1634 1248.7h0M1587.3 1250.5h0M1598.5 1247.7h0M1577.9 1259.9h0M1604.1 1259.9h0M1613.4 1258h0M1624.6 1261.8h0M1643.3 1267.4h0M1574.2 1273h0M1589.1 1278.6h0M1600.3 1274.8h0M1607.8 1278.6h0M1620.9 1282.3h0M1634 1274.8h0M1650.8 1278.6h0M1660.1 1277.6h0M1624.6 1289.8h0M1598.5 1295.4h0M1609.7 1295.4h0M1632.1 1293.5h0M1605.9 1302.9h0M1605.9 1320.6h0M1615.3 1325.3h0M1621.8 1335.5h0M1641.4 1246.8h0M1650.8 1244.9h0M1581.6 1273h0M1592.9 1269.2h0M1617.1 1269.2h0M1628.4 1280.4h0M1639.6 1273h0M1613.4 1287.9h0M1620.9 1295.4h0M1591 1258h0" stroke="#0b0b0b" stroke-width="12.5" stroke-linecap="round" fill="none"/>
<path d="M1776.8 1072.7h17.6v12h-17.6zM1782.1 1093.2h17.6v12h-17.6zM1771.8 1094.2h17.6v12h-17.6zM1755.9 1104.4h17.6v12h-17.6zM1787.7 1106.3h17.6v12h-17.6zM1798.9 1105.4h17.6v12h-17.6zM1767.1 1119.4h17.6v12h-17.6zM1776.5 1117.5h17.6v12h-17.6zM1791.4 1125.9h17.6v12h-17.6zM1761.5 1135.3h17.6v12h-17.6zM1781.1 1140.9h17.6v12h-17.6zM1755.9 1152.1h17.6v12h-17.6zM1807.3 1151.1h17.6v12h-17.6zM1746.6 1157.7h17.6v12h-17.6zM1776.5 1155.8h17.6v12h-17.6zM1769 1164.2h17.6v12h-17.6zM1797 1164.2h17.6v12h-17.6zM1776.5 1169.8h17.6v12h-17.6zM1731.6 1182.9h17.6v12h-17.6zM1746.6 1183.8h17.6v12h-17.6zM1761.5 1184.8h17.6v12h-17.6zM1791.4 1182h17.6v12h-17.6zM1822.2 1187.6h17.6v12h-17.6zM1761.5 1196h17.6v12h-17.6zM1780.2 1199.7h17.6v12h-17.6zM1802.6 1196.9h17.6v12h-17.6zM1812 1201.6h17.6v12h-17.6zM1776.5 1216.5h17.6v12h-17.6zM1785.8 1215.6h17.6v12h-17.6zM1767.1 1228.7h17.6v12h-17.6zM1771.8 1240.8h17.6v12h-17.6zM1781.1 1250.2h17.6v12h-17.6zM1770.9 1259.5h17.6v12h-17.6zM1782.1 1272.6h17.6v12h-17.6zM1772.7 1175.4h17.6v12h-17.6zM1783.9 1188.5h17.6v12h-17.6zM1754.1 1173.6h17.6v12h-17.6z" fill="#0b0b0b"/>
<path d="M1557.4 1266.4H1671.3M1585.4 1238.4H1643.3M1585.4 1294.4H1643.3M1728.3 1174.9H1842.8M1757.3 1127.3H1814.2M1757.3 1222.9H1814.2" stroke="#0b0b0b" stroke-width="4.7" fill="none"/>
<text x="821" y="1641.7" font-size="59" font-weight="bold">G</text>
<text x="890.1" y="1652.7" font-size="16.8" font-weight="bold" fill="#111" textLength="491.4" lengthAdjust="spacingAndGlyphs">Effect of KCNQ1OT1 expression level on STAD patient survival</text>
<path d="M943.6 1665.4V2093.1H1381.5" stroke="#555" stroke-width="1.6" fill="none"/>
<path d="M939 2073.3H943.6" stroke="#555" stroke-width="1.6"/>
<text x="936.1" y="2080.1" font-size="27" text-anchor="end" fill="#111">0.00</text>
<path d="M939 1975.9H943.6" stroke="#555" stroke-width="1.6"/>
<text x="936.1" y="1982.7" font-size="27" text-anchor="end" fill="#111">0.25</text>
<path d="M939 1878.5H943.6" stroke="#555" stroke-width="1.6"/>
<text x="936.1" y="1885.3" font-size="27" text-anchor="end" fill="#111">0.50</text>
<path d="M939 1781.1H943.6" stroke="#555" stroke-width="1.6"/>
<text x="936.1" y="1787.9" font-size="27" text-anchor="end" fill="#111">0.75</text>
<path d="M939 1683.7H943.6" stroke="#555" stroke-width="1.6"/>
<text x="936.1" y="1690.5" font-size="27" text-anchor="end" fill="#111">1.00</text>
<path d="M964.1 2093.1V2098" stroke="#555" stroke-width="1.6"/>
<text x="969.5" y="2119.6" font-size="26.5" text-anchor="middle" fill="#111">0</text>
<path d="M1071.1 2093.1V2098" stroke="#555" stroke-width="1.6"/>
<text x="1069.7" y="2119.6" font-size="26.5" text-anchor="middle" fill="#111">1000</text>
<path d="M1178.1 2093.1V2098" stroke="#555" stroke-width="1.6"/>
<text x="1176.7" y="2119.6" font-size="26.5" text-anchor="middle" fill="#111">2000</text>
<path d="M1285.1 2093.1V2098" stroke="#555" stroke-width="1.6"/>
<text x="1283.7" y="2119.6" font-size="26.5" text-anchor="middle" fill="#111">3000</text>
<text x="1178.5" y="2139.3" font-size="25" text-anchor="middle" fill="#111" textLength="146.6" lengthAdjust="spacingAndGlyphs">Time in days</text>
<text transform="translate(870.5,1823) rotate(-90)" font-size="25.5" text-anchor="middle" fill="#111" textLength="218" lengthAdjust="spacingAndGlyphs">Survival probability</text>
<text x="972.3" y="2010.2" font-size="24.5" fill="#111" textLength="102.7" lengthAdjust="spacingAndGlyphs">p = 0.048</text>
<text x="1136.2" y="1720.3" font-size="15.6" fill="#8b3a2e" textLength="120.4" lengthAdjust="spacingAndGlyphs">Expression Level</text>
<text x="1147.4" y="1737.4" font-size="15.9" fill="#8b3a2e" textLength="173.8" lengthAdjust="spacingAndGlyphs">High expression (n=102)</text>
<text x="1147.4" y="1753.1" font-size="15.9" fill="#8b3a2e" textLength="236.4" lengthAdjust="spacingAndGlyphs">Low/Medium−expression (n=290)</text>
<path d="M1136.5 1731.5H1144.6M1141 1729V1734" stroke="#f04a2a" stroke-width="1.8"/>
<path d="M1136.5 1746.9H1144.6M1141 1744.4V1749.4" stroke="#3a4ab8" stroke-width="1.8"/>
<path d="M964.8 1684.2L966.6 1691.4L970.2 1696.3L972.6 1701.7L975.1 1707.1L978.7 1711.4L981.7 1713.2L982.9 1727.7L983.5 1733.7L985.9 1737.4L988.4 1742.2L990.8 1747L992.6 1751.9L993.8 1764L996.2 1777.2L999.8 1777.2L1001.6 1791.8L1003.5 1794.8L1004.7 1800.2L1005.9 1808.7L1007.7 1819.6L1013.7 1819.6L1015.5 1820.2L1016.2 1834.1L1017.4 1840.1L1022.8 1840.7L1023.4 1854.6L1027 1855.2L1027.6 1860.7L1031.9 1860.7L1032.5 1876.4L1034.3 1877.6L1034.9 1884.2L1046.4 1884.2L1047 1893.3L1049.4 1895.1L1050 1900.5L1047.9 1895.5L1051 1901.9L1054.2 1913L1057.4 1913L1057.4 1923.5L1102 1923.5L1102 1938.5L1114.8 1938.5L1114.8 1958.3L1199.2 1958.3L1199.2 2015L1342 2015" stroke="#f0542e" stroke-width="1.5" fill="none"/>
<path d="M964.8 1684.2L967.8 1689L971.4 1693.8L975.1 1699.9L977.5 1705.9L981.1 1712L983.5 1715L985.9 1722.9L988.4 1728.9L990.8 1733.7L993.2 1738.6L995 1748.2L995.6 1754.3L998 1756.1L1000.4 1756.7L1001.6 1760.3L1002.9 1765.2L1004.1 1768.8L1005.9 1773L1008.3 1778.5L1009.5 1785.7L1012.5 1790.5L1016.2 1795.4L1019.8 1801.4L1022.2 1807.5L1023.4 1814.7L1025.2 1820.8L1028.2 1823.2L1031.9 1826.8L1035.5 1831.6L1036.7 1836.5L1041.5 1838.9L1045.2 1840.1L1047.6 1846.1L1050 1853.4L1056 1857L1058.5 1863.1L1064.5 1864.3L1065.7 1866.7L1075.4 1867.3L1076 1870.9L1080.8 1872.1L1082 1877.6L1086.9 1878.2L1087.5 1884.6L1143.5 1884.3L1145 1898.7L1149.8 1898.7L1151.4 1913L1157.8 1913L1157.8 1924.8L1188.1 1924.8L1188.1 1946.5L1363.3 1946.5" stroke="#3c4cc0" stroke-width="1.5" fill="none"/>
<path d="M1100 1882V1887M1105 1882V1887M1110 1882V1887M1121 1882V1887M1128 1882V1887M1133 1882V1887M1138 1882V1887" stroke="#3c4cc0" stroke-width="1.4"/>
<path d="M1163 1922.3V1927.3M1167 1922.3V1927.3M1171 1922.3V1927.3M1175 1922.3V1927.3" stroke="#3c4cc0" stroke-width="1.4"/>
<path d="M1197 1944V1949M1205 1944V1949M1213 1944V1949M1303 1944V1949M1340 1944V1949M1361 1944V1949" stroke="#3c4cc0" stroke-width="1.4"/>
<path d="M1071 1921V1926M1086 1921V1926M1090 1921V1926" stroke="#f0542e" stroke-width="1.4"/>
<path d="M1150 1955.8V1960.8M1158 1955.8V1960.8M1176 1955.8V1960.8M1183 1955.8V1960.8" stroke="#f0542e" stroke-width="1.4"/>
<path d="M1341 2012.5V2017.5" stroke="#f0542e" stroke-width="1.4"/>
<text x="1422" y="1642.6" font-size="61.5" font-weight="bold">H</text>
<path d="M1506 1687.2V2073.6M1489 2073.6H1902" stroke="#000" stroke-width="3.4" fill="none"/>
<path d="M1489.9 2073.6H1506" stroke="#000" stroke-width="3.6"/>
<path d="M1496.7 2038.7H1506" stroke="#000" stroke-width="3.6"/>
<path d="M1496.7 2003.7H1506" stroke="#000" stroke-width="3.6"/>
<path d="M1496.7 1968.8H1506" stroke="#000" stroke-width="3.6"/>
<path d="M1496.7 1933.8H1506" stroke="#000" stroke-width="3.6"/>
<path d="M1489.9 1898.9H1506" stroke="#000" stroke-width="3.6"/>
<path d="M1496.7 1864H1506" stroke="#000" stroke-width="3.6"/>
<path d="M1496.7 1829H1506" stroke="#000" stroke-width="3.6"/>
<path d="M1496.7 1794.1H1506" stroke="#000" stroke-width="3.6"/>
<path d="M1496.7 1759.1H1506" stroke="#000" stroke-width="3.6"/>
<path d="M1489.9 1724.2H1506" stroke="#000" stroke-width="3.6"/>
<path d="M1496.7 1689.3H1506" stroke="#000" stroke-width="3.6"/>
<text x="1487" y="2089.5" font-size="28.6" text-anchor="end">0</text>
<text x="1487" y="1914.8" font-size="28.6" text-anchor="end">50</text>
<text x="1487" y="1740.1" font-size="28.6" text-anchor="end">100</text>
<path d="M1506 2073.6V2089.6" stroke="#000" stroke-width="3.4"/>
<text x="1500" y="2118" font-size="28.6" text-anchor="middle">0</text>
<path d="M1605 2073.6V2089.6" stroke="#000" stroke-width="3.4"/>
<text x="1605" y="2118" font-size="28.6" text-anchor="middle">10</text>
<path d="M1704 2073.6V2089.6" stroke="#000" stroke-width="3.4"/>
<text x="1704" y="2118" font-size="28.6" text-anchor="middle">20</text>
<path d="M1803 2073.6V2089.6" stroke="#000" stroke-width="3.4"/>
<text x="1803" y="2118" font-size="28.6" text-anchor="middle">30</text>
<path d="M1902 2073.6V2089.6" stroke="#000" stroke-width="3.4"/>
<text x="1902" y="2118" font-size="28.6" text-anchor="middle">40</text>
<text x="1722.7" y="2147.9" font-size="28" text-anchor="middle" textLength="152.8" lengthAdjust="spacingAndGlyphs">Time (month)</text>
<text transform="translate(1437.7,1904) rotate(-90)" font-size="28" text-anchor="middle" textLength="226" lengthAdjust="spacingAndGlyphs">Overall survival (%)</text>
<text x="1558.9" y="1891.6" font-size="33.5" textLength="132.5" lengthAdjust="spacingAndGlyphs">p = 0.038</text>
<path d="M1505.9 1723.6L1584.2 1723.6L1584.2 1742.2L1604.6 1742.2L1604.6 1760.5L1623.8 1760.5L1623.8 1778.9L1653.8 1778.9L1653.8 1796.9L1683.2 1796.9L1683.2 1815.9L1693.7 1815.9L1693.7 1834.2L1703.6 1834.2L1703.6 1852.9L1732.7 1852.9L1732.7 1870.6L1782.5 1870.6L1782.5 1888.7L1861.8 1888.7" stroke="#f2442a" stroke-width="2" fill="none"/>
<path d="M1505.9 1723.6L1663.7 1723.6L1663.7 1740.2L1713.2 1740.2L1713.2 1756.8L1742.9 1756.8L1742.9 1773.1L1802.6 1773.1L1802.6 1789.7L1861.8 1789.7" stroke="#3a4fc4" stroke-width="2" fill="none"/>
<path d="M1663.7 1740.2V1733.7M1713.2 1756.8V1750.3M1742.9 1773.1V1766.6M1802.6 1789.7V1783.2M1861.8 1789.7V1783.2" stroke="#3a4fc4" stroke-width="3"/>
<path d="M1584.2 1742.2V1735.7M1604.6 1760.5V1754M1623.8 1778.9V1772.4M1653.8 1796.9V1790.4M1683.2 1815.9V1809.4M1693.7 1834.2V1827.7M1703.6 1852.9V1846.4M1732.7 1870.6V1864.1M1782.5 1888.7V1882.2M1861.8 1888.7V1882.2" stroke="#f2442a" stroke-width="3"/>
<path d="M1541.4 1952.7H1582.2" stroke="#3a4fc4" stroke-width="2"/><path d="M1561.8 1952.7V1946" stroke="#3a4fc4" stroke-width="3"/>
<path d="M1541.4 2005.2H1582.2" stroke="#f2442a" stroke-width="2"/><path d="M1561.8 2005.2V1998.5" stroke="#f2442a" stroke-width="3"/>
<text x="1592.4" y="1963.5" font-size="28" textLength="307.2" lengthAdjust="spacingAndGlyphs">KCNQ1OT1 low expression</text>
<text x="1592.4" y="2006" font-size="28" textLength="319" lengthAdjust="spacingAndGlyphs">KCNQ1OT1 high expression</text>
<text x="12" y="1643.1" font-size="64" font-weight="bold">F</text>
<text x="223" y="1691.3" font-size="26.1" text-anchor="middle" textLength="166.7" lengthAdjust="spacingAndGlyphs">Normal Tissue</text>
<text x="620.2" y="1691.3" font-size="26.1" text-anchor="middle" textLength="120.3" lengthAdjust="spacingAndGlyphs">CC Tissue</text>
<defs>
<filter id="spkL" x="0" y="0" width="100%" height="100%" color-interpolation-filters="sRGB">
 <feTurbulence type="fractalNoise" baseFrequency="0.13" numOctaves="3" seed="4"/>
 <feColorMatrix type="matrix" values="0 0 0 0 0.32  0 0 0 0 0.32  0 0 0 0 0.69  5 0 0 0 -2.2"/>
</filter>
<filter id="spkL2" x="0" y="0" width="100%" height="100%" color-interpolation-filters="sRGB">
 <feTurbulence type="fractalNoise" baseFrequency="0.09" numOctaves="2" seed="9"/>
 <feColorMatrix type="matrix" values="0 0 0 0 0.52  0 0 0 0 0.62  0 0 0 0 0.74  3 0 0 0 -1.35"/>
</filter>
<filter id="spkR" x="0" y="0" width="100%" height="100%" color-interpolation-filters="sRGB">
 <feTurbulence type="fractalNoise" baseFrequency="0.22" numOctaves="2" seed="11"/>
 <feColorMatrix type="matrix" values="0 0 0 0 0.30  0 0 0 0 0.38  0 0 0 0 0.72  5 0 0 0 -2.75"/>
</filter>
<filter id="spkR2" x="0" y="0" width="100%" height="100%" color-interpolation-filters="sRGB">
 <feTurbulence type="fractalNoise" baseFrequency="0.07" numOctaves="2" seed="5"/>
 <feColorMatrix type="matrix" values="0 0 0 0 0.62  0 0 0 0 0.72  0 0 0 0 0.80  3 0 0 0 -1.5"/>
</filter>
<filter id="bl4"><feGaussianBlur stdDeviation="4"/></filter>
<filter id="bl8"><feGaussianBlur stdDeviation="8"/></filter>
<filter id="bl2"><feGaussianBlur stdDeviation="1.6"/></filter>
<clipPath id="cpL"><rect x="1.1" y="1707.9" width="399.4" height="397.6"/></clipPath>
<clipPath id="cpR"><rect x="416.3" y="1707.9" width="398.5" height="397.6"/></clipPath>
<mask id="mL" maskUnits="userSpaceOnUse" x="0" y="1700" width="410" height="410">
 <rect x="0" y="1700" width="410" height="410" fill="#d0d0d0"/>
 <g filter="url(#bl8)">
  <rect x="0" y="1700" width="75" height="160" fill="#8a8a8a"/>
  <rect x="270" y="1990" width="135" height="120" fill="#ffffff"/>
  <rect x="260" y="1700" width="150" height="140" fill="#f0f0f0"/>
  <path d="M157 1705L216 1705L198 1745L171 1768L160 1780Z" fill="#000"/>
  <path d="M-5 2080L40 1995L70 1930L88 1880L112 1845L125 1852L100 1890L82 1940L55 2005L15 2090Z" fill="#404040"/>
  <path d="M60 1860L110 1830L150 1800L160 1810L120 1845L75 1875Z" fill="#606060"/>
 </g>
</mask>
<mask id="mR" maskUnits="userSpaceOnUse" x="410" y="1700" width="410" height="410">
 <rect x="410" y="1700" width="410" height="410" fill="#7a7a7a"/>
 <g filter="url(#bl8)">
  <rect x="410" y="1700" width="30" height="230" fill="#ffffff"/>
  <rect x="410" y="1830" width="75" height="280" fill="#e8e8e8"/>
  <rect x="600" y="1750" width="160" height="90" fill="#c8c8c8"/>
  <rect x="420" y="2000" width="130" height="110" fill="#d0d0d0"/>
  <rect x="500" y="1760" width="100" height="200" fill="#606060"/>
 </g>
</mask>
</defs>
<g clip-path="url(#cpL)">
<rect x="1.1" y="1707.9" width="399.4" height="397.6" fill="#ccd8d6"/>
<rect x="1.1" y="1707.9" width="399.4" height="397.6" filter="url(#spkL2)" opacity="0.95"/>
<rect x="1.1" y="1707.9" width="399.4" height="397.6" filter="url(#spkL)" mask="url(#mL)"/>
<g filter="url(#bl4)" fill="#e4ead8" opacity="0.55"><path d="M157 1705L216 1705L198 1745L171 1768L160 1780Z"/><path d="M-5 2080L40 1995L70 1930L88 1880L112 1845L122 1850L98 1890L80 1940L52 2005L12 2090Z"/></g>
<path d="M362 1974l18 -2" stroke="#8a5a4a" stroke-width="3" opacity="0.6"/>
</g>
<g clip-path="url(#cpR)">
<rect x="416.3" y="1707.9" width="398.5" height="397.6" fill="#e6e9d6"/>
<rect x="416.3" y="1707.9" width="398.5" height="397.6" filter="url(#spkR2)" opacity="0.6"/>
<g filter="url(#bl8)" opacity="0.55"><path d="M520 1730L600 1750L640 1900L680 2000L640 2100L560 2100L520 1950Z" fill="#e2d8b8"/></g>
<rect x="416.3" y="1707.9" width="398.5" height="397.6" filter="url(#spkR)" mask="url(#mR)"/>
<g filter="url(#bl2)" fill="#f1f6ea"><path d="M655 1709L770 1709L768 1722L752 1729L722 1736L672 1740L660 1730Z"/><path d="M757 1835L816 1800L816 1926L782 1903L760 1862Z"/><path d="M655 2016L816 2014L816 2052L705 2058L670 2040Z"/><path d="M417 1955L440 1945L460 1960L440 1990L418 1995Z" opacity="0.6"/><circle cx="684.8" cy="1880.2" r="12"/><circle cx="723.1" cy="1794.6" r="12"/><circle cx="761.4" cy="1776.6" r="8"/><path d="M460 1895L470 1890L478 1930L468 1940Z"/></g>
<g filter="url(#bl2)" fill="none" stroke="#2f3a92" stroke-linecap="round"><path d="M647 1708L652 1730L668 1744L700 1743L726 1738L760 1729L776 1722L773 1708" stroke-width="6.5"/><path d="M716 2060L735 2062L760 2075L790 2090L815 2100" stroke-width="7"/><path d="M714 2062L716 2080L722 2105" stroke-width="5"/><path d="M436 2016L452 2018L478 2030L498 2058L518 2100" stroke-width="5" opacity="0.85"/><path d="M425 2035L445 2048L462 2075L470 2100" stroke-width="3.5" opacity="0.7"/><path d="M430 2065L440 2080L447 2100" stroke-width="3" opacity="0.6"/><path d="M540 2085L560 2095L575 2106" stroke-width="4" opacity="0.7"/><path d="M424 1708L425 1722L432 1733L444 1734L452 1726L455 1708" stroke-width="5.5" opacity="0.9"/><circle cx="684.8" cy="1880.2" r="12.5" stroke-width="2" opacity="0.6"/><circle cx="723.1" cy="1794.6" r="12.5" stroke-width="2" opacity="0.6"/><circle cx="761.4" cy="1776.6" r="8.5" stroke-width="2" opacity="0.6"/></g>
<g filter="url(#bl2)" fill="none" stroke="#b98f55" stroke-linecap="round" opacity="0.55"><path d="M425 2008L448 2012L470 2022" stroke-width="3"/><path d="M440 2050L460 2066" stroke-width="3"/><path d="M470 1990L480 2000" stroke-width="3"/><path d="M500 2080L512 2096" stroke-width="3"/><path d="M455 1905L462 1935" stroke-width="3"/><path d="M540 2040L555 2060" stroke-width="3"/></g>
<g filter="url(#bl2)"><path d="M716 2062L735 2063L760 2076L790 2091L815 2101L815 2106L724 2106Z" fill="#8d9fd0" opacity="0.7"/><ellipse cx="636.4" cy="1900.5" rx="27" ry="24" fill="#7f90c6" opacity="0.55"/><ellipse cx="640" cy="1902" rx="16" ry="14" fill="#c3d0e4" opacity="0.75"/></g>
</g>
<path d="M324 2095H387" stroke="#111" stroke-width="1.3"/>
<text x="356" y="2087.5" font-size="15.5" text-anchor="middle" fill="#111">50μm</text>
<path d="M739 2095H803" stroke="#111" stroke-width="1.3"/>
<text x="770" y="2087.5" font-size="15.5" text-anchor="middle" fill="#111">50μm</text>
</svg>
</body></html>
